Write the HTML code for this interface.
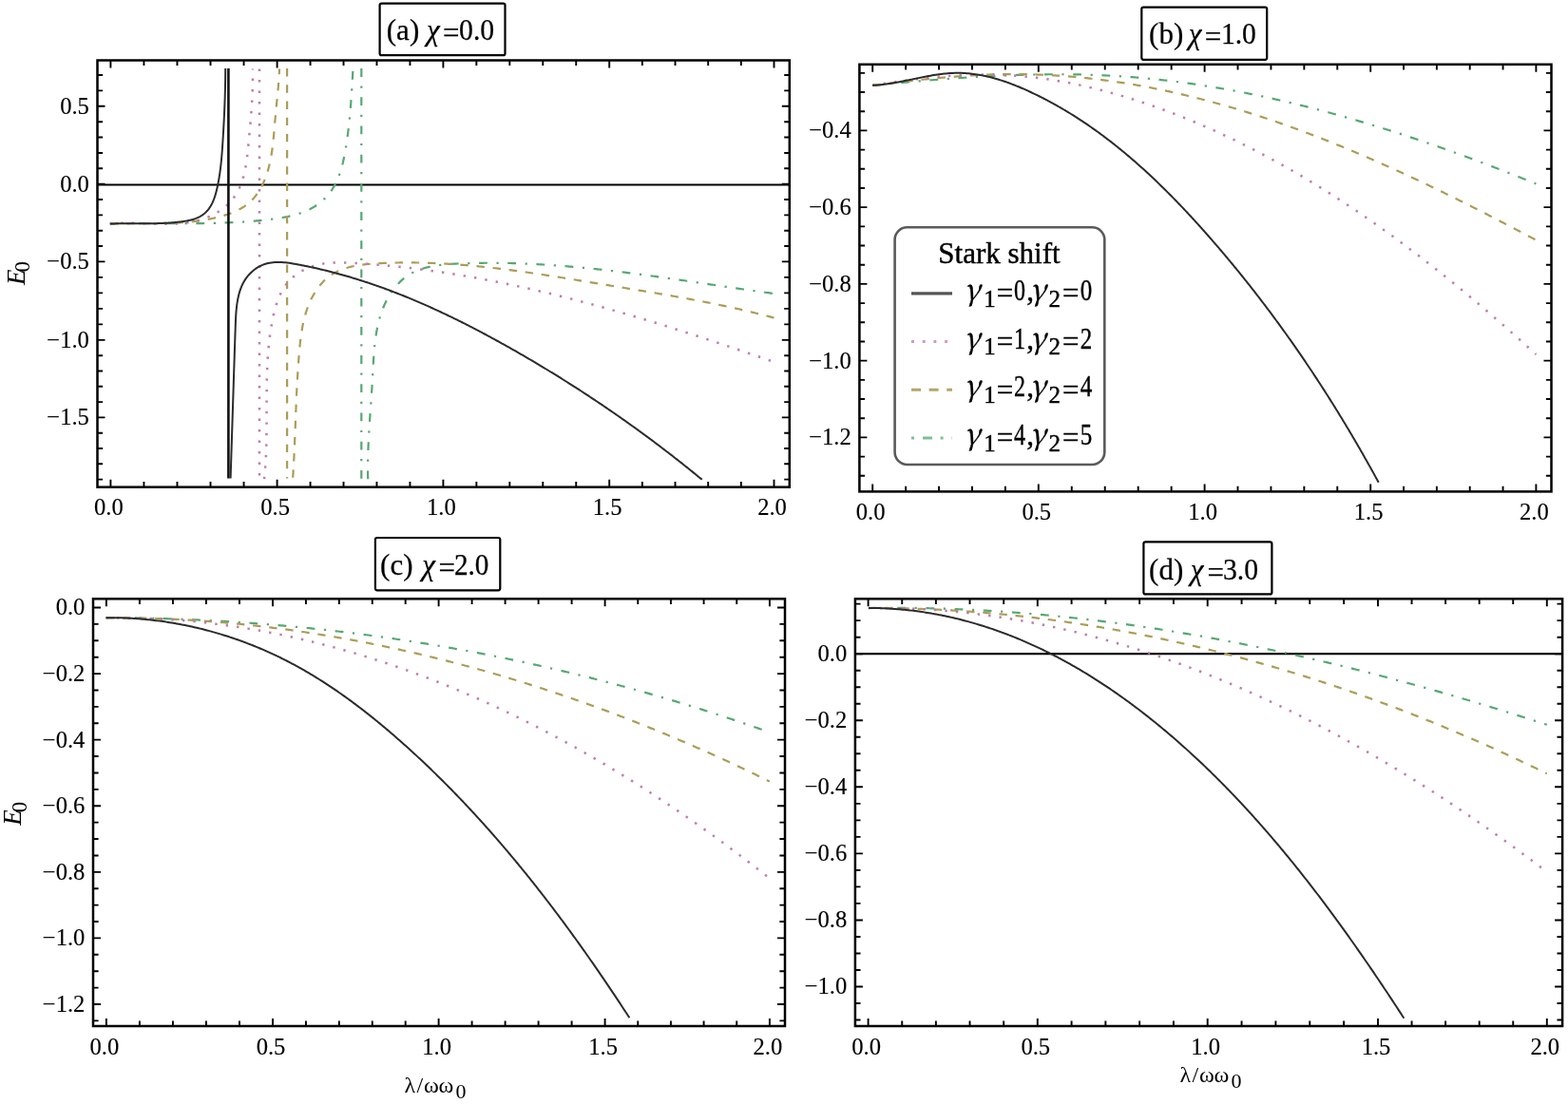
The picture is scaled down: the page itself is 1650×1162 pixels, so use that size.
<!DOCTYPE html>
<html><head><meta charset="utf-8"><title>Stark shift E0 plots</title>
<style>html,body{margin:0;padding:0;background:#fff;}svg{display:block;}</style>
</head><body>
<svg width="1650" height="1162" viewBox="0 0 1650 1162">
<rect width="1650" height="1162" fill="#fff"/>
<path d="M116.40,512.70v-8.0M116.40,63.50v8.0M151.44,512.70v-5.6M151.44,63.50v5.6M186.48,512.70v-5.6M186.48,63.50v5.6M221.52,512.70v-5.6M221.52,63.50v5.6M256.56,512.70v-5.6M256.56,63.50v5.6M291.60,512.70v-8.0M291.60,63.50v8.0M326.56,512.70v-5.6M326.56,63.50v5.6M361.52,512.70v-5.6M361.52,63.50v5.6M396.48,512.70v-5.6M396.48,63.50v5.6M431.44,512.70v-5.6M431.44,63.50v5.6M466.40,512.70v-8.0M466.40,63.50v8.0M501.36,512.70v-5.6M501.36,63.50v5.6M536.32,512.70v-5.6M536.32,63.50v5.6M571.28,512.70v-5.6M571.28,63.50v5.6M606.24,512.70v-5.6M606.24,63.50v5.6M641.20,512.70v-8.0M641.20,63.50v8.0M675.86,512.70v-5.6M675.86,63.50v5.6M710.52,512.70v-5.6M710.52,63.50v5.6M745.18,512.70v-5.6M745.18,63.50v5.6M779.84,512.70v-5.6M779.84,63.50v5.6M814.50,512.70v-8.0M814.50,63.50v8.0M102.50,504.60h5.6M830.80,504.60h-5.6M102.50,488.30h5.6M830.80,488.30h-5.6M102.50,472.00h5.6M830.80,472.00h-5.6M102.50,455.70h5.6M830.80,455.70h-5.6M102.50,439.40h8.0M830.80,439.40h-8.0M102.50,423.10h5.6M830.80,423.10h-5.6M102.50,406.80h5.6M830.80,406.80h-5.6M102.50,390.50h5.6M830.80,390.50h-5.6M102.50,374.20h5.6M830.80,374.20h-5.6M102.50,357.90h8.0M830.80,357.90h-8.0M102.50,341.40h5.6M830.80,341.40h-5.6M102.50,324.90h5.6M830.80,324.90h-5.6M102.50,308.40h5.6M830.80,308.40h-5.6M102.50,291.90h5.6M830.80,291.90h-5.6M102.50,275.40h8.0M830.80,275.40h-8.0M102.50,259.06h5.6M830.80,259.06h-5.6M102.50,242.72h5.6M830.80,242.72h-5.6M102.50,226.38h5.6M830.80,226.38h-5.6M102.50,210.04h5.6M830.80,210.04h-5.6M102.50,193.70h8.0M830.80,193.70h-8.0M102.50,177.32h5.6M830.80,177.32h-5.6M102.50,160.94h5.6M830.80,160.94h-5.6M102.50,144.56h5.6M830.80,144.56h-5.6M102.50,128.18h5.6M830.80,128.18h-5.6M102.50,111.80h8.0M830.80,111.80h-8.0M102.50,95.42h5.6M830.80,95.42h-5.6M102.50,79.04h5.6M830.80,79.04h-5.6" stroke="#000" stroke-width="1.9" fill="none"/>
<g font-family="'Liberation Serif', 'Times New Roman', serif" font-size="24.6" fill="#000" stroke="#000" stroke-width="0.15"><text x="114.4" y="542.3" text-anchor="middle">0.0</text><text x="289.6" y="542.3" text-anchor="middle">0.5</text><text x="464.4" y="542.3" text-anchor="middle">1.0</text><text x="639.2" y="542.3" text-anchor="middle">1.5</text><text x="812.5" y="542.3" text-anchor="middle">2.0</text><text x="93.9" y="447.3" text-anchor="end">−1.5</text><text x="93.9" y="365.8" text-anchor="end">−1.0</text><text x="93.9" y="283.3" text-anchor="end">−0.5</text><text x="93.9" y="201.6" text-anchor="end">0.0</text><text x="93.9" y="119.7" text-anchor="end">0.5</text></g>
<path d="M102.50,194.50H830.80" stroke="#000" stroke-width="2.2"/>
<path d="M918.20,517.40v-8.0M918.20,67.80v8.0M953.12,517.40v-5.6M953.12,67.80v5.6M988.04,517.40v-5.6M988.04,67.80v5.6M1022.96,517.40v-5.6M1022.96,67.80v5.6M1057.88,517.40v-5.6M1057.88,67.80v5.6M1092.80,517.40v-8.0M1092.80,67.80v8.0M1127.76,517.40v-5.6M1127.76,67.80v5.6M1162.72,517.40v-5.6M1162.72,67.80v5.6M1197.68,517.40v-5.6M1197.68,67.80v5.6M1232.64,517.40v-5.6M1232.64,67.80v5.6M1267.60,517.40v-8.0M1267.60,67.80v8.0M1302.52,517.40v-5.6M1302.52,67.80v5.6M1337.44,517.40v-5.6M1337.44,67.80v5.6M1372.36,517.40v-5.6M1372.36,67.80v5.6M1407.28,517.40v-5.6M1407.28,67.80v5.6M1442.20,517.40v-8.0M1442.20,67.80v8.0M1477.04,517.40v-5.6M1477.04,67.80v5.6M1511.88,517.40v-5.6M1511.88,67.80v5.6M1546.72,517.40v-5.6M1546.72,67.80v5.6M1581.56,517.40v-5.6M1581.56,67.80v5.6M1616.40,517.40v-8.0M1616.40,67.80v8.0M904.40,500.78h5.6M1632.50,500.78h-5.6M904.40,480.59h5.6M1632.50,480.59h-5.6M904.40,460.40h8.0M1632.50,460.40h-8.0M904.40,440.21h5.6M1632.50,440.21h-5.6M904.40,420.03h5.6M1632.50,420.03h-5.6M904.40,399.84h5.6M1632.50,399.84h-5.6M904.40,379.65h8.0M1632.50,379.65h-8.0M904.40,359.46h5.6M1632.50,359.46h-5.6M904.40,339.27h5.6M1632.50,339.27h-5.6M904.40,319.09h5.6M1632.50,319.09h-5.6M904.40,298.90h8.0M1632.50,298.90h-8.0M904.40,278.71h5.6M1632.50,278.71h-5.6M904.40,258.52h5.6M1632.50,258.52h-5.6M904.40,238.34h5.6M1632.50,238.34h-5.6M904.40,218.15h8.0M1632.50,218.15h-8.0M904.40,197.96h5.6M1632.50,197.96h-5.6M904.40,177.77h5.6M1632.50,177.77h-5.6M904.40,157.59h5.6M1632.50,157.59h-5.6M904.40,137.40h8.0M1632.50,137.40h-8.0M904.40,117.21h5.6M1632.50,117.21h-5.6M904.40,97.02h5.6M1632.50,97.02h-5.6M904.40,76.84h5.6M1632.50,76.84h-5.6" stroke="#000" stroke-width="1.9" fill="none"/>
<g font-family="'Liberation Serif', 'Times New Roman', serif" font-size="24.6" fill="#000" stroke="#000" stroke-width="0.15"><text x="916.2" y="547.0" text-anchor="middle">0.0</text><text x="1090.8" y="547.0" text-anchor="middle">0.5</text><text x="1265.6" y="547.0" text-anchor="middle">1.0</text><text x="1440.2" y="547.0" text-anchor="middle">1.5</text><text x="1614.4" y="547.0" text-anchor="middle">2.0</text><text x="895.8" y="468.3" text-anchor="end">−1.2</text><text x="895.8" y="387.5" text-anchor="end">−1.0</text><text x="895.8" y="306.8" text-anchor="end">−0.8</text><text x="895.8" y="226.0" text-anchor="end">−0.6</text><text x="895.8" y="145.3" text-anchor="end">−0.4</text></g>
<path d="M111.90,1080.00v-8.0M111.90,630.30v8.0M146.92,1080.00v-5.6M146.92,630.30v5.6M181.94,1080.00v-5.6M181.94,630.30v5.6M216.96,1080.00v-5.6M216.96,630.30v5.6M251.98,1080.00v-5.6M251.98,630.30v5.6M287.00,1080.00v-8.0M287.00,630.30v8.0M321.92,1080.00v-5.6M321.92,630.30v5.6M356.84,1080.00v-5.6M356.84,630.30v5.6M391.76,1080.00v-5.6M391.76,630.30v5.6M426.68,1080.00v-5.6M426.68,630.30v5.6M461.60,1080.00v-8.0M461.60,630.30v8.0M496.60,1080.00v-5.6M496.60,630.30v5.6M531.60,1080.00v-5.6M531.60,630.30v5.6M566.60,1080.00v-5.6M566.60,630.30v5.6M601.60,1080.00v-5.6M601.60,630.30v5.6M636.60,1080.00v-8.0M636.60,630.30v8.0M671.26,1080.00v-5.6M671.26,630.30v5.6M705.92,1080.00v-5.6M705.92,630.30v5.6M740.58,1080.00v-5.6M740.58,630.30v5.6M775.24,1080.00v-5.6M775.24,630.30v5.6M809.90,1080.00v-8.0M809.90,630.30v8.0M98.00,1074.40h5.6M826.00,1074.40h-5.6M98.00,1057.00h8.0M826.00,1057.00h-8.0M98.00,1039.60h5.6M826.00,1039.60h-5.6M98.00,1022.21h5.6M826.00,1022.21h-5.6M98.00,1004.81h5.6M826.00,1004.81h-5.6M98.00,987.42h8.0M826.00,987.42h-8.0M98.00,970.02h5.6M826.00,970.02h-5.6M98.00,952.62h5.6M826.00,952.62h-5.6M98.00,935.23h5.6M826.00,935.23h-5.6M98.00,917.83h8.0M826.00,917.83h-8.0M98.00,900.44h5.6M826.00,900.44h-5.6M98.00,883.04h5.6M826.00,883.04h-5.6M98.00,865.65h5.6M826.00,865.65h-5.6M98.00,848.25h8.0M826.00,848.25h-8.0M98.00,830.85h5.6M826.00,830.85h-5.6M98.00,813.46h5.6M826.00,813.46h-5.6M98.00,796.06h5.6M826.00,796.06h-5.6M98.00,778.67h8.0M826.00,778.67h-8.0M98.00,761.27h5.6M826.00,761.27h-5.6M98.00,743.88h5.6M826.00,743.88h-5.6M98.00,726.48h5.6M826.00,726.48h-5.6M98.00,709.08h8.0M826.00,709.08h-8.0M98.00,691.69h5.6M826.00,691.69h-5.6M98.00,674.29h5.6M826.00,674.29h-5.6M98.00,656.90h5.6M826.00,656.90h-5.6M98.00,639.50h8.0M826.00,639.50h-8.0" stroke="#000" stroke-width="1.9" fill="none"/>
<g font-family="'Liberation Serif', 'Times New Roman', serif" font-size="24.6" fill="#000" stroke="#000" stroke-width="0.15"><text x="109.9" y="1109.6" text-anchor="middle">0.0</text><text x="285.0" y="1109.6" text-anchor="middle">0.5</text><text x="459.6" y="1109.6" text-anchor="middle">1.0</text><text x="634.6" y="1109.6" text-anchor="middle">1.5</text><text x="807.9" y="1109.6" text-anchor="middle">2.0</text><text x="89.4" y="1064.9" text-anchor="end">−1.2</text><text x="89.4" y="995.3" text-anchor="end">−1.0</text><text x="89.4" y="925.7" text-anchor="end">−0.8</text><text x="89.4" y="856.1" text-anchor="end">−0.6</text><text x="89.4" y="786.6" text-anchor="end">−0.4</text><text x="89.4" y="717.0" text-anchor="end">−0.2</text><text x="89.4" y="647.4" text-anchor="end">0.0</text></g>
<path d="M913.60,1080.00v-8.0M913.60,630.30v8.0M949.24,1080.00v-5.6M949.24,630.30v5.6M984.88,1080.00v-5.6M984.88,630.30v5.6M1020.52,1080.00v-5.6M1020.52,630.30v5.6M1056.16,1080.00v-5.6M1056.16,630.30v5.6M1091.80,1080.00v-8.0M1091.80,630.30v8.0M1127.58,1080.00v-5.6M1127.58,630.30v5.6M1163.36,1080.00v-5.6M1163.36,630.30v5.6M1199.14,1080.00v-5.6M1199.14,630.30v5.6M1234.92,1080.00v-5.6M1234.92,630.30v5.6M1270.70,1080.00v-8.0M1270.70,630.30v8.0M1306.56,1080.00v-5.6M1306.56,630.30v5.6M1342.42,1080.00v-5.6M1342.42,630.30v5.6M1378.28,1080.00v-5.6M1378.28,630.30v5.6M1414.14,1080.00v-5.6M1414.14,630.30v5.6M1450.00,1080.00v-8.0M1450.00,630.30v8.0M1485.56,1080.00v-5.6M1485.56,630.30v5.6M1521.12,1080.00v-5.6M1521.12,630.30v5.6M1556.68,1080.00v-5.6M1556.68,630.30v5.6M1592.24,1080.00v-5.6M1592.24,630.30v5.6M1627.80,1080.00v-8.0M1627.80,630.30v8.0M899.90,1073.53h5.6M1644.10,1073.53h-5.6M899.90,1056.02h5.6M1644.10,1056.02h-5.6M899.90,1038.50h8.0M1644.10,1038.50h-8.0M899.90,1020.99h5.6M1644.10,1020.99h-5.6M899.90,1003.47h5.6M1644.10,1003.47h-5.6M899.90,985.96h5.6M1644.10,985.96h-5.6M899.90,968.44h8.0M1644.10,968.44h-8.0M899.90,950.92h5.6M1644.10,950.92h-5.6M899.90,933.41h5.6M1644.10,933.41h-5.6M899.90,915.89h5.6M1644.10,915.89h-5.6M899.90,898.38h8.0M1644.10,898.38h-8.0M899.90,880.87h5.6M1644.10,880.87h-5.6M899.90,863.35h5.6M1644.10,863.35h-5.6M899.90,845.84h5.6M1644.10,845.84h-5.6M899.90,828.32h8.0M1644.10,828.32h-8.0M899.90,810.81h5.6M1644.10,810.81h-5.6M899.90,793.29h5.6M1644.10,793.29h-5.6M899.90,775.78h5.6M1644.10,775.78h-5.6M899.90,758.26h8.0M1644.10,758.26h-8.0M899.90,740.75h5.6M1644.10,740.75h-5.6M899.90,723.23h5.6M1644.10,723.23h-5.6M899.90,705.72h5.6M1644.10,705.72h-5.6M899.90,688.20h8.0M1644.10,688.20h-8.0M899.90,670.69h5.6M1644.10,670.69h-5.6M899.90,653.17h5.6M1644.10,653.17h-5.6M899.90,635.66h5.6M1644.10,635.66h-5.6" stroke="#000" stroke-width="1.9" fill="none"/>
<g font-family="'Liberation Serif', 'Times New Roman', serif" font-size="24.6" fill="#000" stroke="#000" stroke-width="0.15"><text x="911.6" y="1109.6" text-anchor="middle">0.0</text><text x="1089.8" y="1109.6" text-anchor="middle">0.5</text><text x="1268.7" y="1109.6" text-anchor="middle">1.0</text><text x="1448.0" y="1109.6" text-anchor="middle">1.5</text><text x="1625.8" y="1109.6" text-anchor="middle">2.0</text><text x="891.3" y="1046.4" text-anchor="end">−1.0</text><text x="891.3" y="976.3" text-anchor="end">−0.8</text><text x="891.3" y="906.3" text-anchor="end">−0.6</text><text x="891.3" y="836.2" text-anchor="end">−0.4</text><text x="891.3" y="766.2" text-anchor="end">−0.2</text><text x="891.3" y="696.1" text-anchor="end">0.0</text></g>
<path d="M899.90,688.20H1644.10" stroke="#000" stroke-width="2.2"/>
<path d="M115.80,235.50 116.75,235.48 117.70,235.45 118.66,235.43 119.61,235.40 120.56,235.38 121.51,235.36 122.46,235.34 123.41,235.32 124.36,235.30 125.31,235.28 126.26,235.27 127.21,235.25 128.16,235.23 129.11,235.22 130.05,235.21 131.00,235.19 131.94,235.18 132.89,235.17 133.84,235.16 134.78,235.15 135.72,235.14 136.67,235.13 137.61,235.12 138.55,235.11 139.50,235.10 140.44,235.10 141.38,235.09 142.32,235.09 143.26,235.08 144.20,235.08 145.15,235.07 146.09,235.07 147.02,235.07 147.96,235.07 148.90,235.06 149.84,235.06 150.78,235.06 151.72,235.06 152.66,235.06 153.59,235.06 154.53,235.06 155.47,235.06 156.40,235.06 157.34,235.06 158.27,235.06 159.21,235.07 160.15,235.07 161.08,235.07 162.01,235.07 162.95,235.08 163.88,235.08 164.82,235.08 165.75,235.08 166.68,235.09 167.62,235.09 168.55,235.09 169.48,235.10 170.42,235.10 171.35,235.11 172.28,235.11 173.21,235.11 174.15,235.12 175.08,235.12 176.01,235.12 176.94,235.13 177.87,235.13 178.80,235.13 179.73,235.14 180.66,235.14 181.59,235.14 182.53,235.15 183.46,235.15 184.39,235.15 185.32,235.15 186.25,235.16 187.18,235.16 188.11,235.16 189.04,235.16 189.97,235.16 190.90,235.16 191.82,235.16 192.75,235.16 193.68,235.16 194.61,235.16 195.54,235.16 196.47,235.16 197.40,235.16 198.33,235.16 199.26,235.15 200.19,235.15 201.12,235.15 202.05,235.14 202.98,235.14 203.91,235.13 204.84,235.13 205.76,235.12 206.69,235.11 207.62,235.11 208.55,235.10 209.48,235.09 210.41,235.08 211.34,235.07 212.27,235.06 213.20,235.05 214.13,235.04 215.06,235.02 215.99,235.01 216.92,235.00 217.85,234.98 218.78,234.96 219.71,234.95 220.64,234.93 221.57,234.91 222.50,234.89 223.43,234.87 224.36,234.85 225.30,234.83 226.23,234.81 227.16,234.78 228.09,234.76 229.02,234.73 229.95,234.71 230.89,234.68 231.82,234.65 232.75,234.62 233.68,234.59 234.62,234.56 235.55,234.52 236.48,234.49 237.42,234.45 238.35,234.42 239.29,234.38 240.22,234.34 241.15,234.30 242.09,234.26 243.02,234.22 243.96,234.17 244.90,234.13 245.83,234.08 246.77,234.03 247.70,233.99 248.64,233.94 249.58,233.88 250.52,233.83 251.45,233.78 252.39,233.72 253.33,233.66 254.27,233.61 255.21,233.55 256.15,233.48 257.09,233.42 258.03,233.36 258.97,233.29 259.91,233.22 260.85,233.16 261.79,233.08 262.73,233.01 263.68,232.94 264.62,232.86 265.56,232.79 266.51,232.71 267.45,232.63 268.40,232.55 269.34,232.46 270.29,232.38 271.23,232.29 272.18,232.20 273.13,232.11 274.07,232.02 275.02,231.93 275.97,231.83 276.92,231.73 277.87,231.63 278.82,231.53 279.77,231.43 280.72,231.32 281.67,231.22 282.62,231.11 283.57,231.00 284.52,230.88 285.47,230.77 286.43,230.65 287.38,230.52 288.33,230.40 289.28,230.27 290.23,230.14 291.18,230.00 292.12,229.86 293.07,229.72 294.01,229.57 294.96,229.42 295.90,229.26 296.84,229.10 297.78,228.93 298.72,228.76 299.65,228.59 300.59,228.41 301.52,228.22 302.45,228.03 303.37,227.83 304.29,227.62 305.21,227.41 306.13,227.20 307.05,226.97 307.96,226.75 308.87,226.51 309.77,226.27 310.67,226.02 311.57,225.76 312.47,225.49 313.36,225.22 314.24,224.94 315.12,224.65 316.00,224.36 316.87,224.05 317.74,223.74 318.61,223.42 319.47,223.09 320.32,222.75 321.17,222.40 322.01,222.04 322.85,221.68 323.69,221.30 324.51,220.91 325.34,220.52 326.15,220.11 326.96,219.70 327.77,219.27 328.56,218.83 329.36,218.38 330.14,217.92 330.92,217.45 331.69,216.97 332.46,216.48 333.22,215.98 333.97,215.46 334.71,214.93 335.45,214.39 336.18,213.84 336.90,213.28 337.61,212.70 338.32,212.11 339.01,211.51 339.70,210.90 340.39,210.27 341.06,209.63 341.72,208.98 342.38,208.32 343.02,207.64 343.65,206.96 344.28,206.26 344.89,205.55 345.50,204.84 346.09,204.11 346.68,203.37 347.25,202.62 347.81,201.87 348.36,201.10 348.89,200.32 349.42,199.54 349.93,198.75 350.43,197.95 350.92,197.14 351.40,196.32 351.87,195.50 352.32,194.67 352.77,193.84 353.20,192.99 353.62,192.15 354.03,191.29 354.43,190.44 354.82,189.57 355.20,188.71 355.57,187.84 355.93,186.96 356.28,186.08 356.62,185.20 356.95,184.32 357.27,183.43 357.58,182.54 357.89,181.64 358.18,180.74 358.46,179.85 358.74,178.94 359.01,178.04 359.27,177.13 359.53,176.22 359.78,175.31 360.02,174.40 360.25,173.48 360.48,172.56 360.71,171.65 360.92,170.73 361.13,169.80 361.34,168.88 361.54,167.96 361.74,167.03 361.93,166.11 362.12,165.18 362.30,164.25 362.48,163.33 362.65,162.40 362.83,161.47 363.00,160.54 363.16,159.61 363.33,158.69 363.49,157.76 363.65,156.83 363.81,155.90 363.96,154.97 364.11,154.05 364.26,153.12 364.41,152.19 364.56,151.26 364.70,150.34 364.84,149.41 364.98,148.48 365.12,147.55 365.25,146.63 365.38,145.70 365.51,144.77 365.64,143.84 365.77,142.92 365.89,141.99 366.01,141.06 366.13,140.14 366.25,139.21 366.37,138.28 366.48,137.35 366.59,136.43 366.70,135.50 366.81,134.57 366.92,133.64 367.02,132.71 367.13,131.79 367.23,130.86 367.33,129.93 367.43,129.00 367.52,128.07 367.62,127.15 367.71,126.22 367.81,125.29 367.90,124.36 367.99,123.43 368.07,122.50 368.16,121.57 368.25,120.65 368.33,119.72 368.41,118.79 368.49,117.86 368.57,116.93 368.65,116.00 368.73,115.07 368.81,114.14 368.88,113.21 368.96,112.28 369.03,111.35 369.10,110.41 369.17,109.48 369.24,108.55 369.31,107.62 369.38,106.69 369.45,105.76 369.51,104.82 369.58,103.89 369.64,102.96 369.71,102.03 369.77,101.09 369.83,100.16 369.89,99.22 369.95,98.29 370.01,97.36 370.07,96.42 370.13,95.49 370.19,94.55 370.25,93.62 370.31,92.68 370.36,91.74 370.42,90.81 370.48,89.87 370.53,88.93 370.59,87.99 370.64,87.06 370.70,86.12 370.75,85.18 370.81,84.24 370.86,83.30 370.91,82.36 370.97,81.42 371.02,80.48 371.07,79.54 371.13,78.60 371.18,77.66 371.23,76.72 371.29,75.77 371.34,74.83 371.39,73.89 371.45,72.94 371.50,72.00" stroke="#55a872" stroke-width="2.2" fill="none" stroke-dasharray="8.8 9.6 2.2 9.6"/>
<path d="M380.30,72.10V504.20" stroke="#55a872" stroke-width="2.2" fill="none" stroke-dasharray="8.8 9.6 2.2 9.6"/>
<path d="M387.20,504.20 387.16,502.58 387.13,500.96 387.11,499.34 387.09,497.74 387.08,496.14 387.07,494.54 387.07,492.95 387.07,491.37 387.08,489.79 387.09,488.22 387.11,486.65 387.13,485.09 387.16,483.53 387.19,481.98 387.22,480.43 387.26,478.88 387.30,477.34 387.35,475.81 387.40,474.27 387.45,472.74 387.51,471.22 387.57,469.69 387.63,468.17 387.69,466.66 387.76,465.14 387.84,463.63 387.91,462.12 387.99,460.61 388.07,459.11 388.15,457.60 388.23,456.10 388.32,454.60 388.41,453.10 388.50,451.61 388.59,450.11 388.68,448.61 388.78,447.12 388.88,445.63 388.97,444.13 389.07,442.64 389.17,441.15 389.27,439.65 389.38,438.16 389.48,436.67 389.58,435.17 389.69,433.68 389.79,432.18 389.90,430.69 390.00,429.19 390.11,427.69 390.21,426.19 390.32,424.68 390.42,423.18 390.53,421.67 390.63,420.17 390.73,418.65 390.83,417.14 390.94,415.63 391.04,414.11 391.13,412.59 391.23,411.06 391.33,409.53 391.42,408.00 391.52,406.46 391.61,404.93 391.70,403.38 391.79,401.84 391.87,400.28 391.96,398.73 392.04,397.17 392.12,395.60 392.20,394.03 392.28,392.46 392.36,390.89 392.44,389.31 392.52,387.73 392.60,386.15 392.69,384.56 392.78,382.98 392.87,381.39 392.96,379.80 393.06,378.21 393.17,376.62 393.28,375.02 393.39,373.43 393.51,371.84 393.64,370.25 393.77,368.66 393.92,367.07 394.07,365.48 394.23,363.90 394.40,362.31 394.58,360.73 394.77,359.15 394.97,357.58 395.18,356.00 395.40,354.43 395.64,352.87 395.89,351.30 396.15,349.75 396.42,348.19 396.71,346.64 397.02,345.10 397.34,343.56 397.68,342.03 398.03,340.50 398.40,338.98 398.79,337.46 399.20,335.96 399.62,334.45 400.06,332.96 400.53,331.48 401.01,330.00 401.51,328.53 402.04,327.07 402.58,325.61 403.15,324.17 403.74,322.74 404.36,321.31 404.99,319.90 405.65,318.50 406.33,317.11 407.03,315.74 407.76,314.38 408.50,313.04 409.27,311.71 410.06,310.40 410.87,309.11 411.71,307.84 412.56,306.58 413.44,305.35 414.34,304.14 415.26,302.96 416.20,301.79 417.16,300.66 418.15,299.54 419.15,298.46 420.18,297.40 421.22,296.37 422.29,295.36 423.38,294.39 424.49,293.45 425.62,292.54 426.77,291.66 427.94,290.82 429.13,290.01 430.35,289.23 431.58,288.49 432.83,287.78 434.10,287.10 435.38,286.45 436.69,285.84 438.01,285.25 439.35,284.69 440.70,284.16 442.07,283.66 443.45,283.18 444.85,282.73 446.26,282.31 447.68,281.90 449.12,281.52 450.57,281.17 452.03,280.83 453.50,280.52 454.98,280.22 456.47,279.95 457.98,279.69 459.49,279.45 461.00,279.23 462.53,279.02 464.06,278.83 465.60,278.66 467.15,278.49 468.70,278.34 470.26,278.20 471.82,278.08 473.39,277.96 474.95,277.85 476.53,277.75 478.10,277.66 479.68,277.58 481.25,277.51 482.83,277.44 484.41,277.37 485.99,277.31 487.57,277.25 489.14,277.19 490.72,277.14 492.29,277.09 493.87,277.05 495.44,277.01 497.01,276.97 498.59,276.93 500.16,276.90 501.73,276.87 503.30,276.85 504.87,276.82 506.44,276.80 508.00,276.79 509.57,276.77 511.14,276.76 512.70,276.75 514.27,276.75 515.83,276.75 517.39,276.75 518.96,276.75 520.52,276.76 522.08,276.77 523.64,276.78 525.20,276.80 526.76,276.82 528.32,276.84 529.87,276.86 531.43,276.89 532.99,276.92 534.54,276.95 536.10,276.99 537.65,277.02 539.21,277.07 540.76,277.11 542.31,277.15 543.87,277.20 545.42,277.25 546.97,277.31 548.52,277.36 550.07,277.42 551.62,277.48 553.17,277.55 554.72,277.61 556.26,277.68 557.81,277.75 559.36,277.83 560.90,277.90 562.45,277.98 563.99,278.06 565.54,278.14 567.08,278.23 568.63,278.32 570.17,278.41 571.71,278.50 573.25,278.59 574.79,278.69 576.33,278.79 577.87,278.89 579.41,279.00 580.95,279.10 582.49,279.21 584.03,279.32 585.57,279.43 587.11,279.54 588.65,279.66 590.18,279.78 591.72,279.90 593.25,280.02 594.79,280.15 596.33,280.27 597.86,280.40 599.39,280.53 600.93,280.66 602.46,280.80 604.00,280.93 605.53,281.07 607.06,281.21 608.59,281.35 610.12,281.49 611.66,281.64 613.19,281.78 614.72,281.93 616.25,282.08 617.78,282.23 619.31,282.39 620.84,282.54 622.37,282.70 623.89,282.86 625.42,283.02 626.95,283.18 628.48,283.34 630.01,283.51 631.53,283.67 633.06,283.84 634.59,284.01 636.12,284.18 637.64,284.35 639.17,284.53 640.69,284.70 642.22,284.88 643.74,285.06 645.27,285.23 646.79,285.42 648.32,285.60 649.84,285.78 651.37,285.96 652.89,286.15 654.42,286.34 655.94,286.52 657.46,286.71 658.99,286.90 660.51,287.10 662.03,287.29 663.56,287.48 665.08,287.68 666.60,287.87 668.12,288.07 669.65,288.27 671.17,288.47 672.69,288.67 674.21,288.87 675.73,289.07 677.26,289.28 678.78,289.48 680.30,289.68 681.82,289.89 683.34,290.10 684.86,290.30 686.39,290.51 687.91,290.72 689.43,290.93 690.95,291.14 692.47,291.36 693.99,291.57 695.51,291.78 697.03,291.99 698.55,292.21 700.08,292.42 701.60,292.64 703.12,292.86 704.64,293.07 706.16,293.29 707.68,293.51 709.20,293.73 710.72,293.95 712.24,294.17 713.76,294.39 715.28,294.61 716.81,294.83 718.33,295.05 719.85,295.27 721.37,295.50 722.89,295.72 724.41,295.94 725.93,296.17 727.46,296.39 728.98,296.61 730.50,296.84 732.02,297.06 733.54,297.29 735.06,297.51 736.59,297.74 738.11,297.96 739.63,298.19 741.15,298.42 742.68,298.64 744.20,298.87 745.72,299.09 747.25,299.32 748.77,299.55 750.29,299.77 751.82,300.00 753.34,300.23 754.87,300.45 756.39,300.68 757.91,300.90 759.44,301.13 760.96,301.36 762.49,301.58 764.01,301.81 765.54,302.03 767.07,302.26 768.59,302.48 770.12,302.71 771.65,302.93 773.17,303.16 774.70,303.38 776.23,303.61 777.75,303.83 779.28,304.05 780.81,304.28 782.34,304.50 783.87,304.72 785.40,304.94 786.93,305.17 788.46,305.39 789.99,305.61 791.52,305.83 793.05,306.05 794.58,306.27 796.11,306.48 797.64,306.70 799.17,306.92 800.71,307.14 802.24,307.35 803.77,307.57 805.31,307.78 806.84,308.00 808.37,308.21 809.91,308.42 811.44,308.63 812.98,308.85 814.52,309.06" stroke="#55a872" stroke-width="2.2" fill="none" stroke-dasharray="8.8 9.6 2.2 9.6"/>
<path d="M115.80,235.50 116.54,235.47 117.28,235.44 118.02,235.41 118.76,235.38 119.50,235.36 120.24,235.33 120.98,235.31 121.72,235.29 122.47,235.27 123.21,235.25 123.95,235.23 124.69,235.21 125.43,235.19 126.18,235.18 126.92,235.17 127.66,235.15 128.41,235.14 129.15,235.13 129.90,235.12 130.64,235.11 131.38,235.10 132.13,235.09 132.87,235.09 133.62,235.08 134.36,235.07 135.11,235.07 135.86,235.06 136.60,235.06 137.35,235.06 138.09,235.05 138.84,235.05 139.59,235.05 140.33,235.05 141.08,235.05 141.83,235.05 142.58,235.05 143.32,235.05 144.07,235.05 144.82,235.05 145.57,235.05 146.31,235.05 147.06,235.05 147.81,235.06 148.56,235.06 149.31,235.06 150.05,235.06 150.80,235.06 151.55,235.06 152.30,235.07 153.05,235.07 153.80,235.07 154.55,235.07 155.30,235.07 156.05,235.07 156.79,235.07 157.54,235.07 158.29,235.07 159.04,235.07 159.79,235.07 160.54,235.07 161.29,235.07 162.04,235.06 162.79,235.06 163.54,235.06 164.29,235.05 165.04,235.05 165.79,235.04 166.54,235.04 167.29,235.03 168.04,235.02 168.79,235.01 169.54,235.00 170.28,234.99 171.03,234.98 171.78,234.97 172.53,234.96 173.28,234.94 174.03,234.93 174.78,234.91 175.53,234.90 176.28,234.88 177.03,234.86 177.78,234.84 178.53,234.82 179.27,234.79 180.02,234.77 180.77,234.74 181.52,234.71 182.27,234.69 183.02,234.66 183.77,234.62 184.51,234.59 185.26,234.56 186.01,234.52 186.76,234.48 187.50,234.44 188.25,234.40 189.00,234.36 189.75,234.32 190.49,234.27 191.24,234.22 191.99,234.17 192.73,234.12 193.48,234.07 194.23,234.01 194.97,233.96 195.72,233.90 196.46,233.84 197.21,233.77 197.95,233.71 198.70,233.64 199.44,233.57 200.19,233.50 200.93,233.42 201.68,233.35 202.42,233.27 203.16,233.19 203.91,233.10 204.65,233.02 205.39,232.93 206.14,232.84 206.88,232.75 207.62,232.65 208.36,232.55 209.10,232.45 209.84,232.35 210.59,232.24 211.33,232.14 212.07,232.02 212.81,231.91 213.55,231.79 214.29,231.67 215.03,231.55 215.77,231.43 216.50,231.30 217.24,231.17 217.98,231.03 218.72,230.90 219.46,230.76 220.19,230.61 220.93,230.47 221.67,230.32 222.40,230.16 223.14,230.01 223.87,229.85 224.61,229.69 225.34,229.52 226.08,229.35 226.81,229.18 227.54,229.00 228.28,228.83 229.01,228.64 229.74,228.46 230.47,228.27 231.20,228.07 231.93,227.88 232.66,227.68 233.39,227.47 234.12,227.26 234.85,227.05 235.58,226.84 236.31,226.62 237.03,226.39 237.75,226.16 238.48,225.93 239.20,225.69 239.91,225.45 240.63,225.20 241.34,224.95 242.05,224.69 242.76,224.43 243.47,224.16 244.17,223.89 244.87,223.61 245.57,223.32 246.26,223.03 246.95,222.74 247.64,222.44 248.32,222.13 249.00,221.81 249.67,221.49 250.34,221.16 251.00,220.83 251.66,220.49 252.32,220.14 252.97,219.79 253.62,219.43 254.26,219.06 254.89,218.68 255.52,218.30 256.14,217.91 256.76,217.51 257.37,217.11 257.98,216.69 258.58,216.27 259.17,215.84 259.75,215.41 260.33,214.96 260.90,214.51 261.47,214.05 262.03,213.58 262.57,213.10 263.12,212.61 263.65,212.11 264.18,211.60 264.70,211.09 265.21,210.57 265.71,210.04 266.21,209.50 266.70,208.96 267.18,208.40 267.65,207.85 268.12,207.28 268.58,206.71 269.03,206.13 269.48,205.54 269.92,204.95 270.35,204.35 270.77,203.75 271.19,203.14 271.60,202.53 272.01,201.91 272.40,201.28 272.79,200.66 273.18,200.02 273.55,199.39 273.92,198.75 274.29,198.10 274.65,197.45 275.00,196.80 275.34,196.15 275.68,195.49 276.01,194.83 276.34,194.17 276.66,193.50 276.97,192.83 277.28,192.16 277.58,191.48 277.87,190.81 278.16,190.13 278.45,189.44 278.73,188.76 279.00,188.07 279.27,187.38 279.53,186.69 279.79,186.00 280.04,185.30 280.29,184.60 280.53,183.90 280.76,183.19 281.00,182.49 281.22,181.78 281.44,181.07 281.66,180.36 281.87,179.64 282.08,178.93 282.28,178.21 282.48,177.49 282.68,176.77 282.87,176.04 283.05,175.32 283.23,174.59 283.41,173.86 283.58,173.13 283.75,172.40 283.92,171.67 284.08,170.93 284.24,170.20 284.39,169.46 284.54,168.72 284.69,167.98 284.83,167.24 284.97,166.50 285.11,165.75 285.24,165.01 285.37,164.26 285.50,163.52 285.63,162.77 285.75,162.02 285.87,161.27 285.98,160.52 286.10,159.77 286.21,159.01 286.31,158.26 286.42,157.51 286.52,156.75 286.62,156.00 286.72,155.24 286.82,154.48 286.91,153.73 287.00,152.97 287.09,152.21 287.18,151.45 287.27,150.70 287.35,149.94 287.43,149.18 287.51,148.42 287.59,147.66 287.67,146.90 287.75,146.14 287.82,145.38 287.90,144.62 287.97,143.86 288.04,143.10 288.11,142.35 288.18,141.59 288.25,140.83 288.31,140.07 288.38,139.31 288.45,138.55 288.51,137.80 288.58,137.04 288.64,136.28 288.71,135.53 288.77,134.77 288.83,134.02 288.90,133.26 288.96,132.51 289.02,131.76 289.09,131.01 289.15,130.26 289.21,129.51 289.28,128.76 289.34,128.01 289.40,127.26 289.47,126.52 289.53,125.77 289.60,125.03 289.66,124.28 289.73,123.54 289.80,122.80 289.87,122.06 289.94,121.32 290.01,120.59 290.08,119.85 290.15,119.12 290.22,118.38 290.29,117.65 290.36,116.91 290.43,116.18 290.50,115.45 290.57,114.72 290.65,113.99 290.72,113.25 290.79,112.52 290.86,111.80 290.94,111.07 291.01,110.34 291.08,109.61 291.15,108.88 291.23,108.15 291.30,107.42 291.37,106.69 291.44,105.97 291.52,105.24 291.59,104.51 291.66,103.78 291.73,103.05 291.80,102.32 291.87,101.60 291.94,100.87 292.01,100.14 292.08,99.41 292.15,98.68 292.22,97.95 292.29,97.22 292.36,96.48 292.42,95.75 292.49,95.02 292.55,94.28 292.62,93.55 292.68,92.81 292.75,92.08 292.81,91.34 292.87,90.60 292.93,89.86 292.99,89.12 293.05,88.38 293.11,87.64 293.16,86.90 293.22,86.15 293.27,85.41 293.33,84.66 293.38,83.91 293.43,83.16 293.48,82.41 293.53,81.66 293.57,80.91 293.62,80.15 293.67,79.39 293.71,78.63 293.75,77.87 293.79,77.11 293.83,76.35 293.87,75.58 293.90,74.81 293.94,74.04 293.97,73.27 294.00,72.50" stroke="#ab9d58" stroke-width="2.2" fill="none" stroke-dasharray="8.4 8.8"/>
<path d="M302.10,72.10V503.50" stroke="#ab9d58" stroke-width="2.2" fill="none" stroke-dasharray="8.4 8.8"/>
<path d="M308.19,502.70 308.31,500.91 308.42,499.11 308.54,497.32 308.64,495.54 308.75,493.76 308.85,491.98 308.95,490.21 309.05,488.43 309.14,486.67 309.23,484.90 309.32,483.14 309.41,481.38 309.50,479.63 309.58,477.88 309.66,476.13 309.74,474.38 309.82,472.64 309.89,470.90 309.97,469.16 310.04,467.42 310.11,465.68 310.18,463.95 310.25,462.22 310.32,460.49 310.39,458.76 310.46,457.04 310.52,455.31 310.59,453.59 310.65,451.87 310.72,450.15 310.78,448.43 310.85,446.71 310.91,444.99 310.97,443.27 311.04,441.56 311.10,439.84 311.17,438.12 311.23,436.41 311.30,434.69 311.36,432.98 311.43,431.26 311.50,429.55 311.57,427.83 311.63,426.12 311.70,424.40 311.78,422.69 311.85,420.97 311.92,419.25 312.00,417.53 312.08,415.81 312.15,414.09 312.23,412.37 312.32,410.64 312.40,408.92 312.49,407.19 312.58,405.47 312.67,403.74 312.76,402.00 312.86,400.27 312.95,398.54 313.05,396.80 313.16,395.06 313.26,393.32 313.37,391.57 313.49,389.83 313.60,388.08 313.72,386.32 313.84,384.57 313.97,382.81 314.10,381.05 314.23,379.28 314.37,377.52 314.51,375.74 314.65,373.97 314.80,372.19 314.95,370.41 315.11,368.62 315.27,366.84 315.44,365.05 315.62,363.25 315.81,361.46 316.00,359.67 316.21,357.87 316.43,356.08 316.66,354.29 316.90,352.50 317.16,350.71 317.43,348.92 317.72,347.14 318.03,345.36 318.35,343.59 318.70,341.82 319.06,340.06 319.45,338.31 319.86,336.56 320.29,334.82 320.74,333.09 321.23,331.37 321.73,329.65 322.27,327.95 322.83,326.26 323.42,324.58 324.03,322.91 324.67,321.26 325.34,319.63 326.04,318.01 326.76,316.41 327.52,314.84 328.29,313.28 329.10,311.75 329.94,310.24 330.80,308.75 331.69,307.29 332.61,305.86 333.56,304.46 334.54,303.08 335.54,301.74 336.58,300.43 337.64,299.15 338.73,297.91 339.85,296.70 341.00,295.53 342.18,294.40 343.39,293.31 344.63,292.26 345.90,291.25 347.19,290.29 348.52,289.37 349.88,288.49 351.26,287.66 352.67,286.87 354.11,286.12 355.58,285.42 357.07,284.75 358.58,284.12 360.12,283.52 361.67,282.96 363.25,282.44 364.85,281.95 366.47,281.49 368.10,281.06 369.76,280.66 371.43,280.28 373.11,279.94 374.81,279.62 376.52,279.32 378.24,279.05 379.98,278.80 381.72,278.57 383.48,278.36 385.24,278.16 387.01,277.99 388.79,277.83 390.57,277.68 392.36,277.55 394.15,277.43 395.94,277.32 397.73,277.21 399.53,277.12 401.32,277.04 403.12,276.96 404.91,276.88 406.70,276.81 408.49,276.75 410.28,276.69 412.07,276.64 413.85,276.59 415.64,276.55 417.42,276.52 419.20,276.48 420.98,276.46 422.76,276.44 424.54,276.42 426.32,276.41 428.09,276.41 429.87,276.41 431.64,276.41 433.41,276.42 435.18,276.44 436.95,276.46 438.72,276.48 440.49,276.51 442.26,276.54 444.02,276.58 445.79,276.62 447.55,276.67 449.31,276.72 451.07,276.78 452.83,276.84 454.59,276.91 456.35,276.98 458.11,277.05 459.86,277.13 461.62,277.21 463.37,277.30 465.13,277.39 466.88,277.48 468.63,277.58 470.38,277.69 472.13,277.79 473.88,277.90 475.63,278.02 477.38,278.14 479.12,278.26 480.87,278.39 482.61,278.52 484.36,278.65 486.10,278.79 487.84,278.93 489.59,279.07 491.33,279.22 493.07,279.37 494.81,279.52 496.54,279.68 498.28,279.84 500.02,280.01 501.76,280.18 503.49,280.35 505.23,280.52 506.96,280.70 508.70,280.88 510.43,281.06 512.16,281.25 513.90,281.44 515.63,281.63 517.36,281.82 519.09,282.02 520.82,282.22 522.55,282.42 524.28,282.63 526.01,282.84 527.73,283.05 529.46,283.26 531.19,283.48 532.92,283.69 534.64,283.92 536.37,284.14 538.09,284.36 539.82,284.59 541.54,284.82 543.27,285.05 544.99,285.29 546.72,285.52 548.44,285.76 550.16,286.00 551.88,286.24 553.61,286.49 555.33,286.73 557.05,286.98 558.77,287.23 560.49,287.48 562.21,287.73 563.93,287.99 565.65,288.24 567.37,288.50 569.09,288.76 570.81,289.02 572.53,289.28 574.25,289.55 575.97,289.81 577.69,290.08 579.41,290.35 581.13,290.62 582.85,290.89 584.57,291.16 586.29,291.43 588.01,291.70 589.73,291.98 591.44,292.25 593.16,292.53 594.88,292.80 596.60,293.08 598.32,293.36 600.04,293.64 601.76,293.92 603.48,294.20 605.19,294.48 606.91,294.76 608.63,295.04 610.35,295.33 612.07,295.61 613.79,295.89 615.51,296.18 617.23,296.46 618.95,296.74 620.67,297.03 622.39,297.31 624.11,297.60 625.83,297.88 627.55,298.17 629.28,298.45 631.00,298.74 632.72,299.02 634.44,299.31 636.16,299.59 637.89,299.88 639.61,300.16 641.33,300.44 643.06,300.73 644.78,301.01 646.50,301.29 648.23,301.58 649.95,301.86 651.68,302.14 653.40,302.43 655.13,302.71 656.85,302.99 658.58,303.27 660.31,303.56 662.03,303.84 663.76,304.13 665.48,304.41 667.21,304.69 668.94,304.98 670.66,305.26 672.39,305.55 674.12,305.84 675.84,306.12 677.57,306.41 679.30,306.70 681.02,306.99 682.75,307.27 684.48,307.56 686.20,307.85 687.93,308.15 689.66,308.44 691.38,308.73 693.11,309.02 694.83,309.32 696.56,309.61 698.29,309.91 700.01,310.21 701.74,310.51 703.46,310.81 705.19,311.11 706.91,311.41 708.64,311.71 710.36,312.02 712.08,312.32 713.81,312.63 715.53,312.94 717.25,313.25 718.98,313.56 720.70,313.88 722.42,314.19 724.14,314.51 725.86,314.82 727.59,315.14 729.31,315.46 731.03,315.79 732.75,316.11 734.47,316.44 736.18,316.77 737.90,317.10 739.62,317.43 741.34,317.76 743.05,318.10 744.77,318.44 746.49,318.78 748.20,319.12 749.92,319.46 751.63,319.81 753.34,320.16 755.05,320.51 756.77,320.86 758.48,321.22 760.19,321.58 761.90,321.94 763.61,322.30 765.32,322.67 767.02,323.04 768.73,323.41 770.44,323.78 772.14,324.16 773.85,324.53 775.55,324.91 777.26,325.30 778.96,325.69 780.66,326.08 782.36,326.47 784.06,326.86 785.76,327.26 787.46,327.66 789.15,328.07 790.85,328.48 792.55,328.89 794.24,329.30 795.93,329.72 797.63,330.14 799.32,330.56 801.01,330.99 802.70,331.42 804.39,331.85 806.07,332.29 807.76,332.73 809.44,333.17 811.13,333.62 812.81,334.07 814.49,334.52" stroke="#ab9d58" stroke-width="2.2" fill="none" stroke-dasharray="8.4 8.8"/>
<path d="M115.80,235.50 116.47,235.43 117.15,235.35 117.82,235.29 118.50,235.22 119.17,235.16 119.85,235.10 120.53,235.04 121.20,234.99 121.88,234.94 122.56,234.90 123.25,234.86 123.93,234.82 124.61,234.78 125.29,234.75 125.98,234.72 126.66,234.69 127.35,234.67 128.04,234.65 128.73,234.63 129.41,234.61 130.10,234.60 130.79,234.59 131.48,234.58 132.17,234.57 132.86,234.57 133.56,234.57 134.25,234.57 134.94,234.57 135.64,234.57 136.33,234.58 137.03,234.58 137.72,234.59 138.42,234.60 139.12,234.62 139.81,234.63 140.51,234.65 141.21,234.66 141.91,234.68 142.60,234.70 143.30,234.72 144.00,234.74 144.70,234.76 145.40,234.79 146.10,234.81 146.81,234.84 147.51,234.86 148.21,234.89 148.91,234.92 149.61,234.94 150.32,234.97 151.02,235.00 151.72,235.03 152.42,235.06 153.13,235.09 153.83,235.12 154.53,235.15 155.24,235.18 155.94,235.21 156.65,235.24 157.35,235.27 158.05,235.30 158.76,235.33 159.46,235.35 160.17,235.38 160.87,235.41 161.57,235.44 162.28,235.46 162.98,235.49 163.69,235.51 164.39,235.53 165.09,235.56 165.80,235.58 166.50,235.60 167.21,235.62 167.91,235.64 168.61,235.65 169.32,235.67 170.02,235.68 170.72,235.69 171.42,235.70 172.13,235.71 172.83,235.72 173.53,235.73 174.23,235.73 174.93,235.73 175.63,235.73 176.33,235.73 177.03,235.72 177.73,235.72 178.43,235.71 179.13,235.70 179.83,235.68 180.53,235.67 181.22,235.65 181.92,235.63 182.62,235.60 183.31,235.57 184.01,235.54 184.71,235.51 185.40,235.48 186.09,235.44 186.79,235.40 187.48,235.35 188.17,235.30 188.86,235.25 189.56,235.20 190.25,235.14 190.94,235.07 191.63,235.01 192.31,234.94 193.00,234.87 193.69,234.79 194.37,234.71 195.06,234.62 195.74,234.54 196.43,234.44 197.11,234.35 197.79,234.25 198.47,234.14 199.16,234.03 199.83,233.92 200.51,233.80 201.19,233.67 201.87,233.55 202.54,233.41 203.22,233.28 203.89,233.13 204.57,232.99 205.24,232.84 205.91,232.68 206.58,232.52 207.25,232.35 207.92,232.18 208.58,232.00 209.25,231.81 209.91,231.63 210.58,231.43 211.24,231.23 211.90,231.03 212.56,230.81 213.22,230.60 213.88,230.37 214.53,230.15 215.19,229.91 215.84,229.67 216.49,229.43 217.14,229.17 217.79,228.92 218.43,228.65 219.08,228.39 219.72,228.11 220.36,227.83 220.99,227.55 221.63,227.25 222.26,226.96 222.88,226.65 223.51,226.35 224.13,226.03 224.75,225.71 225.37,225.39 225.98,225.06 226.59,224.72 227.19,224.38 227.79,224.03 228.39,223.67 228.99,223.32 229.58,222.95 230.16,222.58 230.75,222.20 231.32,221.82 231.90,221.43 232.47,221.04 233.03,220.64 233.59,220.24 234.15,219.83 234.70,219.41 235.25,218.99 235.79,218.56 236.33,218.13 236.86,217.69 237.38,217.25 237.90,216.80 238.42,216.35 238.93,215.89 239.43,215.42 239.93,214.95 240.42,214.47 240.91,213.99 241.39,213.50 241.86,213.01 242.33,212.51 242.79,212.00 243.24,211.49 243.69,210.98 244.13,210.46 244.56,209.93 244.99,209.40 245.41,208.86 245.83,208.32 246.23,207.77 246.63,207.21 247.02,206.65 247.41,206.09 247.78,205.52 248.15,204.94 248.51,204.36 248.87,203.77 249.21,203.18 249.55,202.58 249.89,201.98 250.21,201.38 250.53,200.77 250.85,200.15 251.15,199.53 251.45,198.91 251.74,198.28 252.03,197.65 252.31,197.02 252.58,196.38 252.85,195.74 253.11,195.10 253.37,194.45 253.62,193.80 253.86,193.15 254.10,192.50 254.34,191.84 254.56,191.18 254.79,190.52 255.00,189.85 255.22,189.18 255.42,188.52 255.62,187.85 255.82,187.17 256.01,186.50 256.20,185.83 256.38,185.15 256.56,184.47 256.73,183.79 256.90,183.12 257.07,182.44 257.23,181.76 257.38,181.07 257.54,180.39 257.69,179.71 257.83,179.02 257.97,178.34 258.11,177.66 258.24,176.97 258.37,176.28 258.50,175.60 258.62,174.91 258.74,174.22 258.86,173.53 258.97,172.84 259.08,172.15 259.19,171.46 259.30,170.77 259.40,170.08 259.50,169.39 259.60,168.70 259.69,168.00 259.79,167.31 259.88,166.62 259.97,165.92 260.05,165.23 260.14,164.54 260.22,163.84 260.30,163.15 260.38,162.45 260.46,161.76 260.53,161.06 260.61,160.37 260.68,159.68 260.75,158.98 260.82,158.29 260.89,157.59 260.96,156.90 261.03,156.20 261.10,155.51 261.17,154.81 261.23,154.12 261.30,153.42 261.36,152.73 261.43,152.03 261.49,151.34 261.56,150.65 261.62,149.95 261.69,149.26 261.75,148.57 261.82,147.87 261.88,147.18 261.95,146.49 262.01,145.80 262.07,145.10 262.14,144.41 262.20,143.72 262.27,143.03 262.33,142.34 262.39,141.65 262.46,140.96 262.52,140.27 262.58,139.58 262.65,138.89 262.71,138.20 262.77,137.51 262.83,136.82 262.90,136.13 262.96,135.44 263.02,134.75 263.08,134.06 263.14,133.37 263.20,132.69 263.26,132.00 263.32,131.31 263.38,130.62 263.44,129.93 263.50,129.24 263.56,128.56 263.62,127.87 263.67,127.18 263.73,126.49 263.79,125.80 263.84,125.12 263.90,124.43 263.96,123.74 264.01,123.05 264.07,122.36 264.12,121.68 264.17,120.99 264.23,120.30 264.28,119.61 264.33,118.93 264.38,118.24 264.43,117.55 264.48,116.86 264.53,116.17 264.58,115.49 264.63,114.80 264.68,114.11 264.72,113.42 264.77,112.73 264.82,112.05 264.86,111.36 264.91,110.67 264.95,109.98 264.99,109.29 265.03,108.60 265.08,107.92 265.12,107.23 265.16,106.54 265.19,105.85 265.23,105.16 265.27,104.47 265.31,103.78 265.34,103.09 265.38,102.40 265.41,101.71 265.44,101.02 265.48,100.33 265.51,99.64 265.54,98.95 265.57,98.26 265.60,97.57 265.62,96.88 265.65,96.18 265.68,95.49 265.70,94.80 265.73,94.11 265.75,93.42 265.77,92.72 265.79,92.03 265.81,91.34 265.83,90.64 265.85,89.95 265.86,89.26 265.88,88.56 265.89,87.87 265.90,87.17 265.92,86.48 265.93,85.78 265.94,85.08 265.95,84.39 265.95,83.69 265.96,83.00 265.96,82.30 265.97,81.60 265.97,80.90 265.97,80.20 265.97,79.51 265.97,78.81 265.97,78.11 265.96,77.41 265.96,76.71 265.95,76.01 265.94,75.31 265.93,74.60 265.92,73.90 265.91,73.20 265.90,72.50" stroke="#c07cab" stroke-width="2.5" fill="none" stroke-dasharray="2.4 9.1"/>
<path d="M273.00,72.50V504.20" stroke="#c07cab" stroke-width="2.5" fill="none" stroke-dasharray="2.4 9.1"/>
<path d="M277.99,504.20 278.19,502.33 278.38,500.47 278.57,498.60 278.74,496.74 278.90,494.88 279.05,493.01 279.20,491.15 279.33,489.30 279.46,487.44 279.58,485.58 279.68,483.72 279.79,481.87 279.88,480.01 279.97,478.16 280.05,476.31 280.12,474.45 280.19,472.60 280.25,470.75 280.30,468.90 280.35,467.05 280.39,465.20 280.43,463.35 280.47,461.50 280.50,459.65 280.52,457.80 280.54,455.95 280.56,454.11 280.58,452.26 280.59,450.41 280.60,448.56 280.60,446.71 280.61,444.87 280.61,443.02 280.61,441.17 280.61,439.33 280.61,437.48 280.60,435.63 280.60,433.78 280.60,431.93 280.59,430.09 280.59,428.24 280.59,426.39 280.59,424.54 280.59,422.69 280.59,420.84 280.59,418.99 280.59,417.14 280.60,415.29 280.61,413.43 280.62,411.58 280.64,409.73 280.66,407.87 280.68,406.02 280.71,404.16 280.74,402.31 280.78,400.45 280.82,398.59 280.86,396.73 280.92,394.87 280.97,393.01 281.04,391.15 281.11,389.28 281.18,387.42 281.26,385.55 281.35,383.69 281.45,381.82 281.56,379.95 281.67,378.08 281.79,376.21 281.92,374.34 282.06,372.46 282.21,370.58 282.36,368.71 282.53,366.83 282.71,364.95 282.90,363.07 283.09,361.18 283.30,359.30 283.52,357.41 283.75,355.52 283.99,353.63 284.25,351.74 284.52,349.84 284.79,347.95 285.09,346.05 285.39,344.15 285.71,342.25 286.04,340.34 286.39,338.44 286.75,336.54 287.13,334.64 287.53,332.74 287.95,330.86 288.40,328.98 288.86,327.11 289.35,325.26 289.87,323.42 290.41,321.60 290.98,319.79 291.58,318.00 292.21,316.24 292.88,314.50 293.58,312.78 294.31,311.09 295.08,309.43 295.89,307.80 296.73,306.20 297.62,304.64 298.55,303.11 299.52,301.63 300.54,300.18 301.60,298.77 302.71,297.40 303.87,296.08 305.07,294.80 306.31,293.57 307.59,292.37 308.92,291.23 310.28,290.12 311.68,289.06 313.11,288.04 314.58,287.06 316.08,286.13 317.61,285.24 319.17,284.40 320.76,283.59 322.38,282.83 324.02,282.12 325.68,281.44 327.37,280.81 329.08,280.23 330.80,279.68 332.54,279.18 334.30,278.73 336.08,278.31 337.87,277.94 339.67,277.62 341.47,277.33 343.29,277.09 345.12,276.88 346.96,276.71 348.81,276.57 350.66,276.47 352.52,276.39 354.38,276.35 356.26,276.33 358.13,276.33 360.01,276.35 361.89,276.39 363.78,276.45 365.67,276.52 367.56,276.61 369.45,276.70 371.34,276.81 373.24,276.92 375.13,277.03 377.02,277.15 378.90,277.27 380.79,277.40 382.68,277.53 384.57,277.66 386.45,277.80 388.33,277.94 390.22,278.08 392.10,278.22 393.98,278.38 395.86,278.53 397.74,278.69 399.62,278.85 401.49,279.01 403.37,279.18 405.25,279.35 407.12,279.52 408.99,279.70 410.87,279.88 412.74,280.07 414.61,280.25 416.48,280.45 418.35,280.64 420.22,280.84 422.08,281.04 423.95,281.24 425.81,281.45 427.68,281.66 429.54,281.88 431.40,282.09 433.27,282.31 435.13,282.54 436.99,282.76 438.85,282.99 440.70,283.23 442.56,283.46 444.42,283.70 446.27,283.95 448.13,284.19 449.98,284.44 451.84,284.69 453.69,284.95 455.54,285.21 457.39,285.47 459.24,285.73 461.09,286.00 462.94,286.27 464.79,286.54 466.63,286.82 468.48,287.10 470.32,287.38 472.17,287.67 474.01,287.96 475.85,288.25 477.69,288.54 479.54,288.84 481.38,289.14 483.22,289.44 485.05,289.75 486.89,290.05 488.73,290.37 490.57,290.68 492.40,291.00 494.24,291.32 496.07,291.64 497.90,291.96 499.74,292.29 501.57,292.62 503.40,292.96 505.23,293.29 507.06,293.63 508.89,293.97 510.72,294.32 512.55,294.66 514.37,295.01 516.20,295.37 518.03,295.72 519.85,296.08 521.67,296.44 523.50,296.80 525.32,297.17 527.14,297.53 528.96,297.90 530.79,298.28 532.61,298.65 534.43,299.03 536.24,299.41 538.06,299.79 539.88,300.18 541.70,300.57 543.51,300.96 545.33,301.35 547.14,301.75 548.96,302.14 550.77,302.54 552.59,302.95 554.40,303.35 556.21,303.76 558.02,304.17 559.83,304.58 561.64,304.99 563.45,305.41 565.26,305.83 567.07,306.25 568.88,306.67 570.68,307.10 572.49,307.52 574.30,307.95 576.10,308.39 577.91,308.82 579.71,309.26 581.52,309.70 583.32,310.14 585.12,310.58 586.92,311.03 588.73,311.47 590.53,311.92 592.33,312.37 594.13,312.83 595.93,313.28 597.73,313.74 599.52,314.20 601.32,314.66 603.12,315.13 604.92,315.59 606.71,316.06 608.51,316.53 610.30,317.00 612.10,317.47 613.89,317.95 615.69,318.43 617.48,318.91 619.27,319.39 621.07,319.87 622.86,320.36 624.65,320.84 626.44,321.33 628.23,321.82 630.02,322.31 631.81,322.81 633.60,323.31 635.39,323.80 637.18,324.30 638.97,324.80 640.75,325.31 642.54,325.81 644.33,326.32 646.11,326.83 647.90,327.34 649.69,327.85 651.47,328.36 653.26,328.88 655.04,329.39 656.82,329.91 658.61,330.43 660.39,330.95 662.17,331.48 663.96,332.00 665.74,332.53 667.52,333.06 669.30,333.58 671.08,334.12 672.86,334.65 674.64,335.18 676.42,335.72 678.20,336.25 679.98,336.79 681.76,337.33 683.54,337.87 685.32,338.42 687.10,338.96 688.87,339.50 690.65,340.05 692.43,340.60 694.20,341.15 695.98,341.70 697.76,342.25 699.53,342.81 701.31,343.36 703.08,343.92 704.86,344.47 706.63,345.03 708.41,345.59 710.18,346.15 711.95,346.72 713.73,347.28 715.50,347.84 717.27,348.41 719.05,348.98 720.82,349.55 722.59,350.12 724.36,350.69 726.14,351.26 727.91,351.83 729.68,352.40 731.45,352.98 733.22,353.56 734.99,354.13 736.76,354.71 738.53,355.29 740.30,355.87 742.07,356.45 743.84,357.03 745.61,357.62 747.38,358.20 749.15,358.79 750.92,359.37 752.69,359.96 754.46,360.55 756.22,361.14 757.99,361.73 759.76,362.32 761.53,362.91 763.30,363.50 765.06,364.09 766.83,364.69 768.60,365.28 770.37,365.88 772.13,366.48 773.90,367.07 775.67,367.67 777.43,368.27 779.20,368.87 780.97,369.47 782.73,370.07 784.50,370.67 786.27,371.27 788.03,371.88 789.80,372.48 791.56,373.08 793.33,373.69 795.09,374.29 796.86,374.90 798.63,375.51 800.39,376.11 802.16,376.72 803.92,377.33 805.69,377.94 807.45,378.55 809.22,379.16 810.98,379.77 812.75,380.38 814.51,380.99" stroke="#c07cab" stroke-width="2.5" fill="none" stroke-dasharray="2.4 9.1"/>
<path d="M115.80,235.50 116.45,235.49 117.10,235.47 117.76,235.45 118.41,235.43 119.06,235.42 119.71,235.40 120.36,235.39 121.01,235.38 121.66,235.37 122.31,235.36 122.96,235.35 123.61,235.34 124.26,235.33 124.91,235.32 125.55,235.32 126.20,235.31 126.85,235.31 127.50,235.30 128.14,235.30 128.79,235.30 129.44,235.29 130.08,235.29 130.73,235.29 131.38,235.29 132.02,235.29 132.67,235.29 133.32,235.29 133.96,235.29 134.61,235.29 135.25,235.29 135.90,235.29 136.54,235.29 137.19,235.29 137.83,235.30 138.48,235.30 139.12,235.30 139.77,235.30 140.41,235.31 141.05,235.31 141.70,235.31 142.34,235.31 142.99,235.31 143.63,235.32 144.27,235.32 144.92,235.32 145.56,235.32 146.21,235.32 146.85,235.33 147.49,235.33 148.14,235.33 148.78,235.33 149.42,235.33 150.07,235.33 150.71,235.33 151.36,235.33 152.00,235.33 152.64,235.32 153.29,235.32 153.93,235.32 154.58,235.31 155.22,235.31 155.86,235.31 156.51,235.30 157.15,235.29 157.80,235.29 158.44,235.28 159.09,235.27 159.73,235.26 160.38,235.25 161.02,235.24 161.67,235.23 162.31,235.22 162.96,235.20 163.60,235.19 164.25,235.17 164.89,235.15 165.54,235.14 166.19,235.12 166.83,235.10 167.48,235.08 168.13,235.05 168.77,235.03 169.42,235.01 170.07,234.98 170.72,234.95 171.36,234.92 172.01,234.89 172.66,234.86 173.31,234.83 173.96,234.79 174.61,234.76 175.26,234.72 175.91,234.68 176.56,234.64 177.21,234.60 177.86,234.56 178.51,234.51 179.16,234.46 179.81,234.41 180.46,234.36 181.12,234.31 181.77,234.26 182.42,234.20 183.08,234.14 183.73,234.08 184.38,234.02 185.04,233.96 185.69,233.89 186.35,233.83 187.01,233.76 187.66,233.69 188.32,233.61 188.98,233.54 189.63,233.46 190.29,233.38 190.95,233.30 191.61,233.21 192.27,233.12 192.92,233.03 193.58,232.94 194.24,232.84 194.89,232.74 195.55,232.63 196.20,232.52 196.85,232.40 197.50,232.28 198.14,232.16 198.79,232.03 199.43,231.89 200.07,231.74 200.70,231.59 201.33,231.44 201.96,231.27 202.58,231.10 203.20,230.92 203.81,230.73 204.42,230.53 205.03,230.33 205.63,230.12 206.22,229.89 206.81,229.66 207.39,229.42 207.96,229.17 208.53,228.91 209.09,228.63 209.65,228.35 210.20,228.06 210.74,227.75 211.27,227.44 211.80,227.11 212.31,226.77 212.83,226.43 213.33,226.07 213.82,225.70 214.31,225.33 214.79,224.94 215.26,224.54 215.72,224.14 216.18,223.72 216.62,223.30 217.06,222.86 217.49,222.42 217.91,221.96 218.32,221.50 218.72,221.03 219.11,220.55 219.49,220.06 219.87,219.56 220.23,219.06 220.59,218.54 220.94,218.02 221.28,217.49 221.61,216.95 221.93,216.41 222.24,215.86 222.55,215.30 222.84,214.73 223.13,214.16 223.42,213.58 223.69,213.00 223.96,212.41 224.22,211.81 224.48,211.21 224.72,210.61 224.96,210.00 225.20,209.38 225.43,208.76 225.65,208.14 225.87,207.51 226.08,206.88 226.28,206.25 226.48,205.61 226.68,204.97 226.87,204.33 227.05,203.69 227.23,203.04 227.41,202.39 227.58,201.74 227.74,201.09 227.90,200.43 228.06,199.78 228.22,199.12 228.37,198.47 228.52,197.81 228.66,197.15 228.80,196.50 228.94,195.84 229.08,195.19 229.21,194.53 229.34,193.88 229.47,193.23 229.59,192.57 229.72,191.92 229.84,191.27 229.96,190.63 230.07,189.98 230.19,189.33 230.30,188.69 230.41,188.04 230.52,187.40 230.63,186.75 230.73,186.11 230.83,185.47 230.93,184.83 231.03,184.18 231.13,183.54 231.22,182.90 231.32,182.26 231.41,181.62 231.50,180.98 231.58,180.34 231.67,179.70 231.76,179.06 231.84,178.42 231.92,177.78 232.00,177.14 232.08,176.50 232.16,175.87 232.23,175.23 232.30,174.59 232.38,173.95 232.45,173.31 232.52,172.67 232.59,172.03 232.65,171.39 232.72,170.75 232.79,170.11 232.85,169.47 232.91,168.84 232.97,168.20 233.03,167.56 233.09,166.92 233.15,166.28 233.21,165.64 233.26,165.00 233.32,164.36 233.37,163.72 233.43,163.08 233.48,162.44 233.53,161.81 233.58,161.17 233.63,160.53 233.68,159.89 233.73,159.25 233.78,158.61 233.82,157.97 233.87,157.33 233.91,156.69 233.96,156.05 234.00,155.41 234.05,154.77 234.09,154.13 234.13,153.48 234.17,152.84 234.22,152.20 234.26,151.56 234.30,150.92 234.34,150.28 234.38,149.64 234.42,148.99 234.46,148.35 234.50,147.71 234.54,147.07 234.58,146.42 234.62,145.78 234.65,145.14 234.69,144.49 234.73,143.85 234.77,143.21 234.81,142.56 234.84,141.92 234.88,141.27 234.92,140.63 234.96,139.98 234.99,139.34 235.03,138.69 235.07,138.05 235.10,137.40 235.14,136.75 235.17,136.11 235.21,135.46 235.25,134.82 235.28,134.17 235.32,133.52 235.35,132.88 235.39,132.23 235.42,131.58 235.45,130.93 235.49,130.29 235.52,129.64 235.55,128.99 235.59,128.34 235.62,127.70 235.65,127.05 235.69,126.40 235.72,125.75 235.75,125.10 235.78,124.45 235.81,123.81 235.84,123.16 235.88,122.51 235.91,121.86 235.94,121.21 235.97,120.56 236.00,119.91 236.03,119.26 236.05,118.62 236.08,117.97 236.11,117.32 236.14,116.67 236.17,116.02 236.20,115.37 236.22,114.72 236.25,114.07 236.28,113.42 236.30,112.77 236.33,112.12 236.36,111.47 236.38,110.82 236.41,110.17 236.43,109.52 236.46,108.88 236.48,108.23 236.50,107.58 236.53,106.93 236.55,106.28 236.57,105.63 236.60,104.98 236.62,104.33 236.64,103.68 236.66,103.03 236.68,102.38 236.70,101.73 236.72,101.08 236.74,100.44 236.76,99.79 236.78,99.14 236.80,98.49 236.82,97.84 236.84,97.19 236.85,96.54 236.87,95.89 236.89,95.25 236.90,94.60 236.92,93.95 236.93,93.30 236.95,92.65 236.96,92.01 236.98,91.36 236.99,90.71 237.01,90.06 237.02,89.42 237.03,88.77 237.04,88.12 237.06,87.47 237.07,86.83 237.08,86.18 237.09,85.53 237.10,84.89 237.11,84.24 237.12,83.60 237.13,82.95 237.13,82.30 237.14,81.66 237.15,81.01 237.16,80.37 237.16,79.72 237.17,79.08 237.17,78.43 237.18,77.79 237.18,77.15 237.19,76.50 237.19,75.86 237.19,75.21 237.20,74.57 237.20,73.93 237.20,73.29 237.20,72.64 237.20,72.00" stroke="#2b2b2b" stroke-width="2.0" fill="none" stroke-linejoin="round"/>
<path d="M240.40,72.1V503.4" stroke="#111" stroke-width="2.6"/>
<path d="M242.60,503.41 242.66,501.41 242.73,499.42 242.79,497.43 242.86,495.46 242.92,493.49 242.99,491.52 243.05,489.56 243.12,487.61 243.18,485.66 243.24,483.72 243.31,481.78 243.37,479.85 243.43,477.93 243.49,476.01 243.55,474.09 243.62,472.18 243.68,470.27 243.74,468.37 243.80,466.47 243.86,464.58 243.92,462.69 243.98,460.80 244.04,458.92 244.10,457.04 244.16,455.16 244.22,453.29 244.28,451.41 244.34,449.54 244.40,447.68 244.46,445.81 244.52,443.95 244.58,442.09 244.64,440.23 244.70,438.37 244.76,436.52 244.81,434.66 244.87,432.81 244.93,430.96 244.99,429.10 245.05,427.25 245.11,425.40 245.17,423.55 245.23,421.70 245.28,419.85 245.34,417.99 245.40,416.14 245.46,414.29 245.52,412.43 245.58,410.58 245.64,408.72 245.70,406.87 245.76,405.01 245.82,403.15 245.88,401.28 245.93,399.42 245.99,397.55 246.05,395.68 246.11,393.81 246.17,391.93 246.23,390.06 246.29,388.17 246.36,386.29 246.42,384.40 246.48,382.51 246.54,380.62 246.60,378.72 246.66,376.81 246.72,374.91 246.78,372.99 246.85,371.08 246.91,369.16 246.97,367.23 247.04,365.30 247.10,363.36 247.16,361.42 247.23,359.47 247.29,357.52 247.35,355.56 247.42,353.59 247.48,351.62 247.55,349.64 247.62,347.65 247.68,345.66 247.75,343.66 247.82,341.65 247.89,339.64 247.97,337.63 248.06,335.62 248.17,333.61 248.29,331.60 248.42,329.60 248.58,327.60 248.75,325.62 248.96,323.64 249.19,321.68 249.45,319.72 249.74,317.79 250.07,315.87 250.43,313.97 250.84,312.10 251.28,310.24 251.77,308.41 252.31,306.61 252.90,304.83 253.55,303.09 254.24,301.37 255.00,299.69 255.81,298.05 256.69,296.44 257.64,294.87 258.65,293.34 259.72,291.86 260.87,290.42 262.07,289.03 263.34,287.70 264.66,286.42 266.04,285.20 267.46,284.04 268.93,282.95 270.45,281.93 272.00,280.99 273.59,280.12 275.22,279.33 276.88,278.62 278.57,278.00 280.28,277.47 282.01,277.03 283.77,276.67 285.55,276.39 287.35,276.17 289.16,276.03 290.99,275.95 292.84,275.93 294.70,275.97 296.57,276.06 298.45,276.19 300.34,276.37 302.24,276.59 304.15,276.83 306.06,277.11 307.97,277.42 309.89,277.74 311.80,278.08 313.72,278.44 315.63,278.80 317.54,279.16 319.44,279.54 321.35,279.92 323.25,280.31 325.14,280.70 327.04,281.11 328.93,281.52 330.82,281.93 332.71,282.35 334.59,282.78 336.47,283.22 338.35,283.66 340.23,284.11 342.10,284.56 343.97,285.02 345.84,285.49 347.71,285.96 349.57,286.44 351.43,286.93 353.29,287.42 355.15,287.92 357.00,288.42 358.85,288.93 360.70,289.45 362.54,289.97 364.39,290.50 366.23,291.03 368.06,291.57 369.90,292.12 371.73,292.67 373.56,293.23 375.39,293.79 377.22,294.36 379.04,294.94 380.86,295.52 382.68,296.11 384.49,296.70 386.31,297.29 388.12,297.90 389.93,298.51 391.74,299.12 393.54,299.74 395.34,300.36 397.14,300.99 398.94,301.63 400.74,302.27 402.53,302.91 404.32,303.56 406.11,304.22 407.90,304.88 409.68,305.55 411.46,306.22 413.24,306.89 415.02,307.57 416.80,308.26 418.57,308.95 420.34,309.64 422.11,310.34 423.88,311.05 425.64,311.76 427.41,312.47 429.17,313.19 430.93,313.91 432.68,314.64 434.44,315.37 436.19,316.11 437.94,316.85 439.69,317.60 441.44,318.35 443.18,319.10 444.93,319.86 446.67,320.62 448.41,321.39 450.15,322.16 451.88,322.94 453.62,323.72 455.35,324.50 457.08,325.29 458.81,326.08 460.53,326.88 462.26,327.68 463.98,328.48 465.70,329.29 467.42,330.10 469.14,330.91 470.85,331.73 472.57,332.55 474.28,333.38 475.99,334.21 477.70,335.04 479.40,335.88 481.11,336.72 482.81,337.56 484.51,338.41 486.22,339.26 487.91,340.11 489.61,340.97 491.31,341.83 493.00,342.69 494.69,343.56 496.38,344.43 498.07,345.30 499.76,346.18 501.45,347.06 503.13,347.94 504.81,348.83 506.50,349.72 508.18,350.61 509.85,351.50 511.53,352.40 513.21,353.30 514.88,354.20 516.55,355.10 518.23,356.01 519.90,356.92 521.56,357.84 523.23,358.75 524.90,359.67 526.56,360.59 528.23,361.51 529.89,362.44 531.55,363.37 533.21,364.30 534.87,365.23 536.52,366.16 538.18,367.10 539.83,368.04 541.49,368.98 543.14,369.92 544.79,370.87 546.44,371.82 548.08,372.77 549.73,373.72 551.38,374.67 553.02,375.63 554.66,376.59 556.31,377.55 557.95,378.51 559.59,379.48 561.22,380.45 562.86,381.41 564.50,382.39 566.13,383.36 567.76,384.34 569.39,385.31 571.02,386.29 572.65,387.28 574.28,388.26 575.91,389.25 577.53,390.24 579.16,391.23 580.78,392.22 582.40,393.22 584.02,394.21 585.64,395.21 587.25,396.21 588.87,397.22 590.48,398.22 592.10,399.23 593.71,400.24 595.32,401.25 596.93,402.27 598.54,403.29 600.14,404.31 601.75,405.33 603.35,406.35 604.95,407.38 606.55,408.40 608.15,409.43 609.75,410.46 611.35,411.50 612.94,412.53 614.54,413.57 616.13,414.61 617.72,415.66 619.31,416.70 620.90,417.75 622.49,418.80 624.07,419.85 625.66,420.90 627.24,421.96 628.82,423.02 630.40,424.08 631.98,425.14 633.56,426.20 635.13,427.27 636.71,428.34 638.28,429.41 639.85,430.48 641.42,431.56 642.99,432.63 644.56,433.71 646.12,434.79 647.69,435.88 649.25,436.96 650.81,438.05 652.37,439.14 653.93,440.23 655.49,441.33 657.04,442.42 658.60,443.52 660.15,444.62 661.70,445.73 663.25,446.83 664.80,447.94 666.34,449.05 667.89,450.16 669.43,451.28 670.97,452.39 672.52,453.51 674.05,454.63 675.59,455.75 677.13,456.88 678.66,458.00 680.20,459.13 681.73,460.26 683.26,461.40 684.79,462.53 686.31,463.67 687.84,464.81 689.36,465.95 690.88,467.10 692.40,468.24 693.92,469.39 695.44,470.54 696.96,471.70 698.47,472.85 699.98,474.01 701.50,475.17 703.01,476.33 704.51,477.49 706.02,478.66 707.53,479.83 709.03,481.00 710.53,482.17 712.03,483.34 713.53,484.52 715.03,485.70 716.52,486.88 718.02,488.06 719.51,489.25 721.00,490.43 722.49,491.62 723.98,492.82 725.46,494.01 726.95,495.21 728.43,496.40 729.91,497.60 731.39,498.81 732.87,500.01 734.34,501.22 735.82,502.43 737.29,503.64 738.76,504.85" stroke="#2b2b2b" stroke-width="2.0" fill="none" stroke-linejoin="round"/>
<path d="M918.20,89.89 919.98,89.71 921.76,89.54 923.54,89.37 925.32,89.20 927.10,89.03 928.88,88.86 930.66,88.69 932.44,88.53 934.22,88.36 936.01,88.19 937.79,88.02 939.57,87.86 941.35,87.69 943.14,87.53 944.92,87.37 946.70,87.20 948.49,87.04 950.27,86.88 952.05,86.72 953.84,86.56 955.62,86.40 957.41,86.24 959.19,86.08 960.98,85.93 962.76,85.77 964.55,85.62 966.34,85.46 968.12,85.31 969.91,85.16 971.70,85.01 973.48,84.86 975.27,84.71 977.06,84.57 978.84,84.42 980.63,84.27 982.42,84.13 984.21,83.99 986.00,83.85 987.79,83.71 989.57,83.57 991.36,83.43 993.15,83.29 994.94,83.16 996.73,83.02 998.52,82.89 1000.31,82.76 1002.10,82.63 1003.89,82.50 1005.68,82.38 1007.47,82.25 1009.26,82.13 1011.05,82.01 1012.84,81.88 1014.63,81.77 1016.42,81.65 1018.21,81.53 1020.01,81.42 1021.80,81.30 1023.59,81.19 1025.38,81.08 1027.17,80.98 1028.96,80.87 1030.75,80.77 1032.55,80.66 1034.34,80.56 1036.13,80.46 1037.92,80.37 1039.71,80.27 1041.51,80.18 1043.30,80.09 1045.09,80.00 1046.88,79.91 1048.67,79.82 1050.47,79.74 1052.26,79.66 1054.05,79.58 1055.84,79.50 1057.64,79.43 1059.43,79.35 1061.22,79.28 1063.01,79.21 1064.81,79.14 1066.60,79.08 1068.39,79.02 1070.18,78.96 1071.98,78.90 1073.77,78.84 1075.56,78.79 1077.35,78.74 1079.15,78.69 1080.94,78.64 1082.73,78.60 1084.52,78.55 1086.31,78.51 1088.11,78.48 1089.90,78.44 1091.69,78.41 1093.48,78.38 1095.27,78.35 1097.07,78.33 1098.86,78.31 1100.65,78.29 1102.44,78.27 1104.23,78.26 1106.02,78.24 1107.81,78.24 1109.61,78.23 1111.40,78.23 1113.19,78.23 1114.98,78.23 1116.77,78.23 1118.56,78.24 1120.35,78.25 1122.14,78.26 1123.93,78.28 1125.72,78.30 1127.51,78.32 1129.30,78.34 1131.09,78.37 1132.88,78.40 1134.67,78.44 1136.46,78.47 1138.25,78.51 1140.03,78.56 1141.82,78.60 1143.61,78.65 1145.40,78.70 1147.19,78.76 1148.98,78.82 1150.76,78.88 1152.55,78.94 1154.34,79.01 1156.12,79.08 1157.91,79.16 1159.70,79.23 1161.48,79.32 1163.27,79.40 1165.06,79.49 1166.84,79.58 1168.63,79.67 1170.41,79.77 1172.20,79.87 1173.98,79.98 1175.77,80.09 1177.55,80.20 1179.33,80.31 1181.12,80.43 1182.90,80.56 1184.68,80.68 1186.47,80.81 1188.25,80.94 1190.03,81.08 1191.81,81.22 1193.60,81.36 1195.38,81.51 1197.16,81.66 1198.94,81.81 1200.72,81.97 1202.50,82.13 1204.28,82.29 1206.06,82.46 1207.84,82.63 1209.62,82.80 1211.40,82.97 1213.17,83.15 1214.95,83.34 1216.73,83.52 1218.51,83.71 1220.29,83.91 1222.06,84.10 1223.84,84.30 1225.62,84.50 1227.39,84.71 1229.17,84.92 1230.94,85.13 1232.72,85.34 1234.49,85.56 1236.27,85.78 1238.04,86.01 1239.81,86.24 1241.59,86.47 1243.36,86.70 1245.13,86.94 1246.90,87.18 1248.68,87.42 1250.45,87.67 1252.22,87.92 1253.99,88.17 1255.76,88.42 1257.53,88.68 1259.30,88.94 1261.07,89.21 1262.84,89.48 1264.61,89.75 1266.38,90.02 1268.14,90.30 1269.91,90.58 1271.68,90.86 1273.45,91.14 1275.21,91.43 1276.98,91.72 1278.75,92.02 1280.51,92.31 1282.28,92.61 1284.04,92.92 1285.80,93.22 1287.57,93.53 1289.33,93.84 1291.09,94.15 1292.86,94.47 1294.62,94.79 1296.38,95.11 1298.14,95.44 1299.90,95.77 1301.66,96.10 1303.42,96.43 1305.18,96.77 1306.94,97.11 1308.70,97.45 1310.46,97.79 1312.22,98.14 1313.98,98.49 1315.73,98.84 1317.49,99.20 1319.25,99.56 1321.00,99.92 1322.76,100.28 1324.51,100.65 1326.27,101.02 1328.02,101.39 1329.78,101.76 1331.53,102.14 1333.28,102.52 1335.03,102.90 1336.79,103.28 1338.54,103.67 1340.29,104.06 1342.04,104.45 1343.79,104.85 1345.54,105.24 1347.29,105.64 1349.04,106.04 1350.79,106.45 1352.53,106.86 1354.28,107.27 1356.03,107.68 1357.77,108.09 1359.52,108.51 1361.27,108.93 1363.01,109.35 1364.75,109.77 1366.50,110.20 1368.24,110.63 1369.99,111.06 1371.73,111.49 1373.47,111.93 1375.21,112.37 1376.95,112.81 1378.69,113.25 1380.43,113.70 1382.17,114.14 1383.91,114.59 1385.65,115.05 1387.39,115.50 1389.12,115.96 1390.86,116.42 1392.60,116.88 1394.33,117.34 1396.07,117.81 1397.80,118.28 1399.54,118.75 1401.27,119.22 1403.01,119.69 1404.74,120.17 1406.47,120.65 1408.20,121.13 1409.93,121.61 1411.66,122.10 1413.39,122.58 1415.12,123.07 1416.85,123.57 1418.58,124.06 1420.31,124.56 1422.03,125.05 1423.76,125.55 1425.49,126.06 1427.21,126.56 1428.94,127.07 1430.66,127.57 1432.39,128.08 1434.11,128.60 1435.83,129.11 1437.55,129.63 1439.28,130.14 1441.00,130.66 1442.72,131.19 1444.44,131.71 1446.16,132.24 1447.87,132.76 1449.59,133.29 1451.31,133.82 1453.03,134.36 1454.74,134.89 1456.46,135.43 1458.17,135.97 1459.89,136.51 1461.60,137.05 1463.31,137.60 1465.03,138.14 1466.74,138.69 1468.45,139.24 1470.16,139.79 1471.87,140.35 1473.58,140.90 1475.29,141.46 1477.00,142.02 1478.71,142.58 1480.41,143.14 1482.12,143.71 1483.82,144.27 1485.53,144.84 1487.23,145.41 1488.94,145.98 1490.64,146.55 1492.34,147.13 1494.05,147.70 1495.75,148.28 1497.45,148.86 1499.15,149.44 1500.85,150.02 1502.55,150.61 1504.24,151.19 1505.94,151.78 1507.64,152.37 1509.33,152.96 1511.03,153.55 1512.72,154.14 1514.42,154.74 1516.11,155.33 1517.80,155.93 1519.50,156.53 1521.19,157.13 1522.88,157.73 1524.57,158.34 1526.26,158.94 1527.94,159.55 1529.63,160.16 1531.32,160.77 1533.01,161.38 1534.69,161.99 1536.38,162.60 1538.06,163.22 1539.75,163.83 1541.43,164.45 1543.11,165.07 1544.79,165.69 1546.47,166.31 1548.15,166.94 1549.83,167.56 1551.51,168.19 1553.19,168.81 1554.87,169.44 1556.54,170.07 1558.22,170.70 1559.89,171.33 1561.57,171.97 1563.24,172.60 1564.91,173.24 1566.59,173.87 1568.26,174.51 1569.93,175.15 1571.60,175.79 1573.27,176.43 1574.94,177.08 1576.60,177.72 1578.27,178.37 1579.94,179.01 1581.60,179.66 1583.27,180.31 1584.93,180.96 1586.59,181.61 1588.26,182.26 1589.92,182.91 1591.58,183.57 1593.24,184.22 1594.90,184.88 1596.56,185.53 1598.21,186.19 1599.87,186.85 1601.53,187.51 1603.18,188.17 1604.84,188.83 1606.49,189.50 1608.14,190.16 1609.80,190.83 1611.45,191.49 1613.10,192.16 1614.75,192.83 1616.40,193.49" stroke="#55a872" stroke-width="2.2" fill="none" stroke-dasharray="8.8 9.6 2.2 9.6"/>
<path d="M918.21,89.87 920.02,89.64 921.84,89.42 923.66,89.20 925.47,88.97 927.29,88.75 929.11,88.53 930.93,88.31 932.75,88.09 934.57,87.87 936.39,87.65 938.21,87.43 940.03,87.21 941.85,87.00 943.68,86.78 945.50,86.57 947.32,86.35 949.14,86.14 950.97,85.93 952.79,85.72 954.62,85.51 956.44,85.31 958.26,85.10 960.09,84.90 961.92,84.70 963.74,84.50 965.57,84.30 967.39,84.11 969.22,83.91 971.05,83.72 972.87,83.53 974.70,83.34 976.53,83.16 978.36,82.97 980.19,82.79 982.02,82.61 983.84,82.44 985.67,82.26 987.50,82.09 989.33,81.92 991.16,81.76 992.99,81.59 994.82,81.43 996.65,81.28 998.48,81.12 1000.32,80.97 1002.15,80.82 1003.98,80.68 1005.81,80.53 1007.64,80.40 1009.47,80.26 1011.30,80.13 1013.14,80.00 1014.97,79.87 1016.80,79.75 1018.63,79.64 1020.47,79.52 1022.30,79.41 1024.13,79.31 1025.97,79.20 1027.80,79.10 1029.63,79.01 1031.47,78.92 1033.30,78.83 1035.13,78.75 1036.97,78.67 1038.80,78.60 1040.63,78.53 1042.47,78.47 1044.30,78.41 1046.14,78.35 1047.97,78.30 1049.81,78.26 1051.64,78.22 1053.47,78.18 1055.31,78.15 1057.14,78.12 1058.98,78.10 1060.81,78.08 1062.64,78.07 1064.48,78.07 1066.31,78.06 1068.15,78.07 1069.98,78.07 1071.81,78.09 1073.65,78.10 1075.48,78.12 1077.32,78.15 1079.15,78.18 1080.98,78.22 1082.82,78.26 1084.65,78.30 1086.48,78.35 1088.31,78.41 1090.15,78.47 1091.98,78.53 1093.81,78.60 1095.64,78.67 1097.48,78.75 1099.31,78.83 1101.14,78.92 1102.97,79.01 1104.80,79.11 1106.63,79.21 1108.46,79.31 1110.29,79.42 1112.12,79.54 1113.95,79.66 1115.78,79.78 1117.61,79.91 1119.43,80.04 1121.26,80.18 1123.09,80.32 1124.92,80.47 1126.74,80.62 1128.57,80.77 1130.39,80.93 1132.22,81.09 1134.04,81.26 1135.87,81.43 1137.69,81.61 1139.52,81.79 1141.34,81.98 1143.16,82.17 1144.98,82.36 1146.81,82.56 1148.63,82.76 1150.45,82.97 1152.27,83.18 1154.09,83.40 1155.91,83.62 1157.72,83.84 1159.54,84.07 1161.36,84.30 1163.17,84.54 1164.99,84.78 1166.81,85.03 1168.62,85.28 1170.43,85.53 1172.25,85.79 1174.06,86.05 1175.87,86.32 1177.68,86.59 1179.49,86.87 1181.30,87.15 1183.11,87.43 1184.92,87.72 1186.73,88.01 1188.53,88.30 1190.34,88.60 1192.14,88.91 1193.95,89.21 1195.75,89.53 1197.55,89.84 1199.36,90.16 1201.16,90.49 1202.96,90.81 1204.76,91.15 1206.56,91.48 1208.35,91.82 1210.15,92.17 1211.95,92.51 1213.74,92.87 1215.54,93.22 1217.33,93.58 1219.12,93.94 1220.92,94.31 1222.71,94.68 1224.50,95.06 1226.29,95.44 1228.08,95.82 1229.87,96.20 1231.65,96.59 1233.44,96.99 1235.22,97.39 1237.01,97.79 1238.79,98.19 1240.58,98.60 1242.36,99.01 1244.14,99.43 1245.92,99.85 1247.70,100.27 1249.48,100.70 1251.26,101.13 1253.04,101.56 1254.81,102.00 1256.59,102.44 1258.37,102.88 1260.14,103.33 1261.91,103.78 1263.69,104.24 1265.46,104.70 1267.23,105.16 1269.00,105.63 1270.77,106.09 1272.54,106.57 1274.31,107.04 1276.07,107.52 1277.84,108.00 1279.61,108.49 1281.37,108.98 1283.13,109.47 1284.90,109.97 1286.66,110.47 1288.42,110.97 1290.18,111.47 1291.94,111.98 1293.70,112.49 1295.46,113.01 1297.22,113.53 1298.97,114.05 1300.73,114.58 1302.48,115.10 1304.24,115.63 1305.99,116.17 1307.74,116.71 1309.50,117.25 1311.25,117.79 1313.00,118.34 1314.75,118.89 1316.50,119.44 1318.24,119.99 1319.99,120.55 1321.74,121.12 1323.48,121.68 1325.23,122.25 1326.97,122.82 1328.71,123.39 1330.45,123.97 1332.20,124.55 1333.94,125.13 1335.68,125.72 1337.41,126.30 1339.15,126.89 1340.89,127.49 1342.63,128.08 1344.36,128.68 1346.10,129.29 1347.83,129.89 1349.56,130.50 1351.30,131.11 1353.03,131.72 1354.76,132.34 1356.49,132.96 1358.22,133.58 1359.95,134.20 1361.67,134.83 1363.40,135.46 1365.13,136.09 1366.85,136.72 1368.58,137.36 1370.30,138.00 1372.02,138.64 1373.74,139.28 1375.46,139.93 1377.18,140.58 1378.90,141.23 1380.62,141.89 1382.34,142.54 1384.06,143.20 1385.77,143.87 1387.49,144.53 1389.20,145.20 1390.92,145.87 1392.63,146.54 1394.34,147.21 1396.05,147.89 1397.76,148.57 1399.47,149.25 1401.18,149.93 1402.89,150.62 1404.60,151.30 1406.30,151.99 1408.01,152.69 1409.71,153.38 1411.42,154.08 1413.12,154.77 1414.82,155.48 1416.52,156.18 1418.23,156.88 1419.93,157.59 1421.62,158.30 1423.32,159.01 1425.02,159.73 1426.72,160.44 1428.41,161.16 1430.11,161.88 1431.80,162.60 1433.49,163.33 1435.19,164.05 1436.88,164.78 1438.57,165.51 1440.26,166.24 1441.95,166.98 1443.64,167.71 1445.33,168.45 1447.01,169.19 1448.70,169.93 1450.38,170.67 1452.07,171.42 1453.75,172.17 1455.43,172.91 1457.12,173.66 1458.80,174.42 1460.48,175.17 1462.16,175.93 1463.84,176.69 1465.51,177.44 1467.19,178.21 1468.87,178.97 1470.54,179.73 1472.22,180.50 1473.89,181.27 1475.56,182.04 1477.24,182.81 1478.91,183.58 1480.58,184.35 1482.25,185.13 1483.92,185.91 1485.59,186.69 1487.25,187.47 1488.92,188.25 1490.59,189.03 1492.25,189.82 1493.91,190.60 1495.58,191.39 1497.24,192.18 1498.90,192.97 1500.56,193.76 1502.22,194.56 1503.88,195.35 1505.54,196.15 1507.20,196.95 1508.85,197.75 1510.51,198.55 1512.17,199.35 1513.82,200.15 1515.47,200.96 1517.13,201.76 1518.78,202.57 1520.43,203.38 1522.08,204.18 1523.73,205.00 1525.38,205.81 1527.02,206.62 1528.67,207.43 1530.32,208.25 1531.96,209.06 1533.61,209.88 1535.25,210.70 1536.89,211.52 1538.54,212.34 1540.18,213.16 1541.82,213.98 1543.46,214.81 1545.10,215.63 1546.73,216.46 1548.37,217.29 1550.01,218.11 1551.64,218.94 1553.28,219.77 1554.91,220.60 1556.54,221.43 1558.18,222.26 1559.81,223.10 1561.44,223.93 1563.07,224.77 1564.70,225.60 1566.33,226.44 1567.95,227.28 1569.58,228.11 1571.20,228.95 1572.83,229.79 1574.45,230.63 1576.08,231.47 1577.70,232.31 1579.32,233.16 1580.94,234.00 1582.56,234.84 1584.18,235.69 1585.80,236.53 1587.42,237.38 1589.03,238.22 1590.65,239.07 1592.26,239.92 1593.88,240.77 1595.49,241.61 1597.10,242.46 1598.72,243.31 1600.33,244.16 1601.94,245.01 1603.55,245.86 1605.16,246.72 1606.76,247.57 1608.37,248.42 1609.98,249.27 1611.58,250.13 1613.19,250.98 1614.79,251.83 1616.39,252.69" stroke="#ab9d58" stroke-width="2.2" fill="none" stroke-dasharray="8.4 8.8"/>
<path d="M918.20,89.90 920.14,89.59 922.08,89.27 924.02,88.96 925.96,88.66 927.90,88.35 929.84,88.05 931.79,87.75 933.73,87.45 935.68,87.16 937.62,86.87 939.57,86.58 941.52,86.29 943.47,86.01 945.42,85.73 947.37,85.46 949.32,85.19 951.27,84.92 953.22,84.66 955.18,84.40 957.13,84.15 959.08,83.90 961.04,83.65 962.99,83.41 964.95,83.17 966.91,82.94 968.87,82.71 970.82,82.48 972.78,82.27 974.74,82.05 976.70,81.84 978.66,81.64 980.62,81.44 982.58,81.25 984.54,81.06 986.50,80.88 988.46,80.71 990.42,80.54 992.38,80.37 994.34,80.21 996.30,80.06 998.27,79.92 1000.23,79.78 1002.19,79.64 1004.15,79.52 1006.11,79.40 1008.08,79.29 1010.04,79.18 1012.00,79.08 1013.96,78.99 1015.92,78.90 1017.88,78.82 1019.85,78.75 1021.81,78.69 1023.77,78.64 1025.73,78.59 1027.69,78.55 1029.65,78.52 1031.61,78.49 1033.57,78.48 1035.53,78.47 1037.49,78.47 1039.45,78.48 1041.41,78.49 1043.36,78.52 1045.32,78.55 1047.28,78.60 1049.23,78.65 1051.19,78.71 1053.14,78.78 1055.10,78.86 1057.05,78.95 1059.01,79.04 1060.96,79.15 1062.91,79.26 1064.86,79.39 1066.81,79.52 1068.76,79.66 1070.71,79.81 1072.66,79.96 1074.61,80.13 1076.56,80.30 1078.51,80.49 1080.45,80.68 1082.40,80.88 1084.34,81.08 1086.28,81.30 1088.23,81.52 1090.17,81.75 1092.11,81.99 1094.05,82.24 1095.99,82.50 1097.93,82.76 1099.86,83.03 1101.80,83.31 1103.74,83.60 1105.67,83.89 1107.60,84.19 1109.54,84.50 1111.47,84.82 1113.40,85.15 1115.33,85.48 1117.26,85.82 1119.18,86.16 1121.11,86.52 1123.03,86.88 1124.96,87.25 1126.88,87.62 1128.80,88.01 1130.72,88.40 1132.64,88.79 1134.56,89.20 1136.48,89.61 1138.39,90.03 1140.31,90.45 1142.22,90.88 1144.13,91.32 1146.04,91.76 1147.95,92.21 1149.86,92.67 1151.77,93.14 1153.67,93.61 1155.58,94.08 1157.48,94.57 1159.38,95.06 1161.28,95.55 1163.18,96.05 1165.08,96.56 1166.97,97.08 1168.87,97.60 1170.76,98.12 1172.65,98.66 1174.54,99.19 1176.43,99.74 1178.31,100.29 1180.20,100.84 1182.08,101.41 1183.96,101.97 1185.85,102.55 1187.72,103.12 1189.60,103.71 1191.48,104.30 1193.35,104.89 1195.22,105.49 1197.09,106.10 1198.96,106.71 1200.83,107.32 1202.69,107.94 1204.56,108.57 1206.42,109.20 1208.28,109.84 1210.14,110.48 1211.99,111.13 1213.85,111.78 1215.70,112.43 1217.55,113.09 1219.40,113.76 1221.25,114.43 1223.09,115.10 1224.94,115.78 1226.78,116.47 1228.62,117.15 1230.45,117.85 1232.29,118.54 1234.12,119.25 1235.96,119.95 1237.79,120.66 1239.61,121.38 1241.44,122.10 1243.26,122.82 1245.09,123.55 1246.91,124.28 1248.72,125.02 1250.54,125.76 1252.36,126.51 1254.17,127.26 1255.98,128.01 1257.79,128.77 1259.59,129.53 1261.40,130.30 1263.20,131.07 1265.00,131.85 1266.80,132.63 1268.60,133.41 1270.40,134.20 1272.19,134.99 1273.98,135.79 1275.77,136.59 1277.56,137.39 1279.35,138.20 1281.13,139.01 1282.91,139.83 1284.70,140.65 1286.47,141.47 1288.25,142.30 1290.03,143.13 1291.80,143.97 1293.57,144.81 1295.34,145.65 1297.11,146.50 1298.87,147.36 1300.64,148.21 1302.40,149.07 1304.16,149.93 1305.92,150.80 1307.68,151.67 1309.43,152.55 1311.18,153.43 1312.94,154.31 1314.68,155.20 1316.43,156.09 1318.18,156.98 1319.92,157.88 1321.66,158.78 1323.40,159.68 1325.14,160.59 1326.88,161.51 1328.61,162.42 1330.35,163.34 1332.08,164.26 1333.81,165.19 1335.54,166.12 1337.26,167.05 1338.99,167.99 1340.71,168.93 1342.43,169.88 1344.15,170.82 1345.86,171.77 1347.58,172.73 1349.29,173.69 1351.00,174.65 1352.71,175.61 1354.42,176.58 1356.13,177.55 1357.83,178.53 1359.54,179.51 1361.24,180.49 1362.94,181.47 1364.63,182.46 1366.33,183.45 1368.02,184.45 1369.71,185.44 1371.40,186.45 1373.09,187.45 1374.78,188.46 1376.46,189.47 1378.15,190.48 1379.83,191.50 1381.51,192.52 1383.19,193.54 1384.86,194.57 1386.54,195.60 1388.21,196.63 1389.88,197.67 1391.55,198.70 1393.22,199.75 1394.89,200.79 1396.55,201.84 1398.21,202.89 1399.87,203.94 1401.53,205.00 1403.19,206.06 1404.84,207.12 1406.50,208.18 1408.15,209.25 1409.80,210.32 1411.45,211.40 1413.10,212.47 1414.74,213.55 1416.39,214.63 1418.03,215.72 1419.67,216.81 1421.31,217.90 1422.94,218.99 1424.58,220.09 1426.21,221.18 1427.84,222.28 1429.47,223.39 1431.10,224.49 1432.73,225.60 1434.36,226.72 1435.98,227.83 1437.60,228.95 1439.22,230.07 1440.84,231.19 1442.46,232.31 1444.07,233.44 1445.68,234.57 1447.30,235.70 1448.91,236.83 1450.51,237.97 1452.12,239.11 1453.73,240.25 1455.33,241.40 1456.93,242.54 1458.53,243.69 1460.13,244.84 1461.73,246.00 1463.32,247.15 1464.92,248.31 1466.51,249.47 1468.10,250.63 1469.69,251.80 1471.28,252.96 1472.86,254.13 1474.44,255.31 1476.03,256.48 1477.61,257.65 1479.19,258.83 1480.76,260.01 1482.34,261.20 1483.91,262.38 1485.49,263.57 1487.06,264.76 1488.63,265.95 1490.19,267.14 1491.76,268.33 1493.33,269.53 1494.89,270.73 1496.45,271.93 1498.01,273.13 1499.57,274.34 1501.12,275.54 1502.68,276.75 1504.23,277.96 1505.78,279.18 1507.33,280.39 1508.88,281.61 1510.43,282.82 1511.98,284.04 1513.52,285.27 1515.06,286.49 1516.60,287.71 1518.14,288.94 1519.68,290.17 1521.22,291.40 1522.75,292.63 1524.28,293.87 1525.82,295.10 1527.35,296.34 1528.87,297.58 1530.40,298.82 1531.93,300.06 1533.45,301.30 1534.97,302.55 1536.49,303.79 1538.01,305.04 1539.53,306.29 1541.05,307.54 1542.56,308.80 1544.07,310.05 1545.58,311.31 1547.09,312.56 1548.60,313.82 1550.11,315.08 1551.62,316.35 1553.12,317.61 1554.62,318.87 1556.12,320.14 1557.62,321.41 1559.12,322.67 1560.62,323.94 1562.11,325.21 1563.60,326.49 1565.10,327.76 1566.59,329.03 1568.07,330.31 1569.56,331.59 1571.05,332.87 1572.53,334.15 1574.02,335.43 1575.50,336.71 1576.98,337.99 1578.45,339.28 1579.93,340.56 1581.41,341.85 1582.88,343.13 1584.35,344.42 1585.82,345.71 1587.29,347.00 1588.76,348.29 1590.23,349.59 1591.69,350.88 1593.16,352.17 1594.62,353.47 1596.08,354.77 1597.54,356.06 1599.00,357.36 1600.45,358.66 1601.91,359.96 1603.36,361.26 1604.82,362.56 1606.27,363.86 1607.72,365.17 1609.16,366.47 1610.61,367.78 1612.05,369.08 1613.50,370.39 1614.94,371.69 1616.38,373.00" stroke="#c07cab" stroke-width="2.5" fill="none" stroke-dasharray="2.4 9.1"/>
<path d="M918.21,89.85 919.96,89.77 921.72,89.66 923.48,89.53 925.24,89.38 927.00,89.20 928.77,89.01 930.54,88.80 932.32,88.56 934.10,88.31 935.88,88.05 937.67,87.76 939.45,87.47 941.24,87.16 943.04,86.84 944.83,86.51 946.63,86.17 948.43,85.82 950.23,85.47 952.04,85.10 953.84,84.74 955.65,84.37 957.46,83.99 959.27,83.62 961.08,83.24 962.90,82.86 964.71,82.49 966.53,82.11 968.34,81.75 970.16,81.38 971.98,81.02 973.80,80.67 975.62,80.33 977.44,80.00 979.26,79.67 981.08,79.36 982.90,79.06 984.72,78.78 986.54,78.50 988.36,78.25 990.18,78.01 991.99,77.79 993.81,77.59 995.63,77.41 997.44,77.25 999.26,77.11 1001.07,77.00 1002.89,76.91 1004.70,76.85 1006.51,76.81 1008.31,76.81 1010.12,76.82 1011.92,76.87 1013.73,76.94 1015.53,77.04 1017.32,77.17 1019.12,77.31 1020.91,77.49 1022.71,77.69 1024.50,77.91 1026.28,78.15 1028.07,78.42 1029.85,78.71 1031.63,79.03 1033.41,79.36 1035.19,79.71 1036.96,80.09 1038.73,80.49 1040.49,80.90 1042.26,81.34 1044.02,81.79 1045.78,82.27 1047.53,82.76 1049.28,83.27 1051.03,83.79 1052.78,84.34 1054.52,84.90 1056.26,85.47 1057.99,86.06 1059.72,86.67 1061.45,87.29 1063.17,87.92 1064.89,88.57 1066.61,89.23 1068.32,89.91 1070.03,90.59 1071.74,91.29 1073.44,92.00 1075.13,92.72 1076.82,93.45 1078.51,94.19 1080.20,94.95 1081.87,95.71 1083.55,96.48 1085.22,97.25 1086.88,98.04 1088.55,98.83 1090.20,99.63 1091.85,100.44 1093.50,101.26 1095.14,102.08 1096.78,102.91 1098.41,103.75 1100.04,104.59 1101.66,105.44 1103.28,106.30 1104.90,107.16 1106.51,108.04 1108.11,108.91 1109.72,109.80 1111.31,110.69 1112.90,111.59 1114.49,112.50 1116.08,113.41 1117.66,114.33 1119.23,115.25 1120.80,116.18 1122.37,117.12 1123.93,118.07 1125.49,119.02 1127.04,119.98 1128.59,120.94 1130.13,121.91 1131.68,122.88 1133.21,123.87 1134.74,124.85 1136.27,125.85 1137.80,126.85 1139.32,127.86 1140.83,128.87 1142.35,129.89 1143.85,130.91 1145.36,131.94 1146.86,132.97 1148.35,134.02 1149.84,135.06 1151.33,136.11 1152.82,137.17 1154.30,138.24 1155.77,139.30 1157.25,140.38 1158.71,141.46 1160.18,142.54 1161.64,143.63 1163.10,144.73 1164.55,145.83 1166.00,146.94 1167.45,148.05 1168.89,149.16 1170.33,150.29 1171.76,151.41 1173.19,152.54 1174.62,153.68 1176.04,154.82 1177.46,155.97 1178.88,157.12 1180.29,158.27 1181.70,159.43 1183.11,160.60 1184.51,161.77 1185.91,162.94 1187.31,164.12 1188.70,165.30 1190.09,166.49 1191.47,167.68 1192.85,168.87 1194.23,170.07 1195.61,171.28 1196.98,172.49 1198.35,173.70 1199.71,174.92 1201.08,176.14 1202.43,177.36 1203.79,178.59 1205.14,179.82 1206.49,181.06 1207.84,182.30 1209.18,183.55 1210.52,184.79 1211.86,186.05 1213.19,187.30 1214.52,188.56 1215.85,189.82 1217.17,191.09 1218.49,192.36 1219.81,193.63 1221.12,194.91 1222.44,196.19 1223.74,197.47 1225.05,198.76 1226.35,200.05 1227.65,201.34 1228.95,202.64 1230.25,203.94 1231.54,205.24 1232.83,206.54 1234.11,207.85 1235.40,209.16 1236.68,210.48 1237.96,211.79 1239.23,213.11 1240.50,214.44 1241.77,215.76 1243.04,217.09 1244.30,218.42 1245.57,219.75 1246.82,221.09 1248.08,222.42 1249.34,223.76 1250.59,225.11 1251.84,226.45 1253.08,227.80 1254.33,229.15 1255.57,230.50 1256.81,231.85 1258.04,233.21 1259.28,234.57 1260.51,235.93 1261.74,237.29 1262.96,238.66 1264.19,240.02 1265.41,241.39 1266.63,242.76 1267.85,244.13 1269.06,245.50 1270.28,246.88 1271.49,248.25 1272.70,249.63 1273.90,251.01 1275.11,252.39 1276.31,253.78 1277.51,255.16 1278.71,256.55 1279.90,257.93 1281.10,259.32 1282.29,260.71 1283.48,262.10 1284.66,263.50 1285.85,264.89 1287.03,266.29 1288.21,267.69 1289.39,269.09 1290.57,270.49 1291.74,271.89 1292.91,273.29 1294.08,274.70 1295.25,276.10 1296.42,277.51 1297.58,278.92 1298.74,280.33 1299.90,281.75 1301.06,283.16 1302.21,284.58 1303.36,285.99 1304.52,287.41 1305.66,288.83 1306.81,290.25 1307.96,291.68 1309.10,293.10 1310.24,294.53 1311.38,295.95 1312.51,297.38 1313.65,298.81 1314.78,300.24 1315.91,301.68 1317.04,303.11 1318.16,304.55 1319.29,305.99 1320.41,307.43 1321.53,308.87 1322.64,310.31 1323.76,311.75 1324.87,313.20 1325.98,314.64 1327.09,316.09 1328.20,317.54 1329.31,318.99 1330.41,320.44 1331.51,321.90 1332.61,323.35 1333.71,324.81 1334.80,326.26 1335.90,327.72 1336.99,329.18 1338.08,330.65 1339.16,332.11 1340.25,333.57 1341.33,335.04 1342.41,336.51 1343.49,337.98 1344.57,339.45 1345.64,340.92 1346.72,342.39 1347.79,343.87 1348.86,345.34 1349.92,346.82 1350.99,348.30 1352.05,349.78 1353.11,351.26 1354.17,352.75 1355.23,354.23 1356.29,355.72 1357.34,357.20 1358.39,358.69 1359.44,360.18 1360.49,361.67 1361.53,363.17 1362.58,364.66 1363.62,366.16 1364.66,367.65 1365.70,369.15 1366.73,370.65 1367.77,372.15 1368.80,373.66 1369.83,375.16 1370.86,376.66 1371.88,378.17 1372.91,379.68 1373.93,381.19 1374.95,382.70 1375.97,384.21 1376.99,385.72 1378.00,387.24 1379.01,388.76 1380.03,390.27 1381.04,391.79 1382.04,393.31 1383.05,394.83 1384.05,396.36 1385.05,397.88 1386.05,399.41 1387.05,400.93 1388.05,402.46 1389.04,403.99 1390.03,405.52 1391.02,407.05 1392.01,408.59 1393.00,410.12 1393.99,411.66 1394.97,413.20 1395.95,414.73 1396.93,416.27 1397.91,417.82 1398.88,419.36 1399.86,420.90 1400.83,422.45 1401.80,424.00 1402.77,425.54 1403.73,427.09 1404.70,428.64 1405.66,430.20 1406.62,431.75 1407.58,433.30 1408.54,434.86 1409.50,436.42 1410.45,437.97 1411.40,439.53 1412.35,441.10 1413.30,442.66 1414.25,444.22 1415.19,445.79 1416.14,447.35 1417.08,448.92 1418.02,450.49 1418.96,452.06 1419.89,453.63 1420.83,455.20 1421.76,456.78 1422.69,458.35 1423.62,459.93 1424.55,461.51 1425.47,463.09 1426.40,464.67 1427.32,466.25 1428.24,467.83 1429.16,469.41 1430.08,471.00 1430.99,472.59 1431.91,474.17 1432.82,475.76 1433.73,477.35 1434.64,478.94 1435.54,480.54 1436.45,482.13 1437.35,483.73 1438.25,485.32 1439.15,486.92 1440.05,488.52 1440.95,490.12 1441.84,491.72 1442.74,493.32 1443.63,494.93 1444.52,496.53 1445.41,498.14 1446.29,499.75 1447.18,501.36 1448.06,502.97 1448.94,504.58 1449.82,506.19 1450.70,507.80" stroke="#2b2b2b" stroke-width="2.0" fill="none" stroke-linejoin="round"/>
<path d="M111.60,650.22 113.38,650.22 115.17,650.23 116.96,650.23 118.74,650.24 120.53,650.24 122.31,650.25 124.10,650.26 125.89,650.27 127.67,650.29 129.46,650.30 131.24,650.32 133.03,650.33 134.82,650.35 136.60,650.37 138.39,650.40 140.17,650.42 141.96,650.44 143.74,650.47 145.53,650.50 147.31,650.53 149.10,650.56 150.89,650.59 152.67,650.63 154.46,650.66 156.24,650.70 158.03,650.74 159.81,650.78 161.60,650.82 163.38,650.86 165.17,650.91 166.95,650.96 168.74,651.00 170.52,651.05 172.31,651.11 174.09,651.16 175.88,651.21 177.66,651.27 179.45,651.32 181.23,651.38 183.01,651.44 184.80,651.51 186.58,651.57 188.37,651.63 190.15,651.70 191.93,651.77 193.72,651.84 195.50,651.91 197.29,651.98 199.07,652.05 200.85,652.13 202.64,652.21 204.42,652.29 206.20,652.37 207.99,652.45 209.77,652.53 211.55,652.61 213.34,652.70 215.12,652.79 216.90,652.88 218.69,652.97 220.47,653.06 222.25,653.15 224.03,653.25 225.82,653.35 227.60,653.44 229.38,653.54 231.16,653.65 232.94,653.75 234.73,653.85 236.51,653.96 238.29,654.07 240.07,654.17 241.85,654.29 243.63,654.40 245.42,654.51 247.20,654.63 248.98,654.74 250.76,654.86 252.54,654.98 254.32,655.10 256.10,655.22 257.88,655.35 259.66,655.47 261.44,655.60 263.22,655.73 265.00,655.86 266.78,655.99 268.56,656.12 270.34,656.26 272.12,656.40 273.90,656.53 275.68,656.67 277.46,656.81 279.24,656.96 281.02,657.10 282.80,657.25 284.57,657.39 286.35,657.54 288.13,657.69 289.91,657.84 291.69,657.99 293.46,658.15 295.24,658.31 297.02,658.46 298.80,658.62 300.57,658.78 302.35,658.94 304.13,659.11 305.91,659.27 307.68,659.44 309.46,659.61 311.23,659.78 313.01,659.95 314.79,660.12 316.56,660.30 318.34,660.47 320.11,660.65 321.89,660.83 323.67,661.01 325.44,661.19 327.22,661.37 328.99,661.56 330.76,661.74 332.54,661.93 334.31,662.12 336.09,662.31 337.86,662.51 339.63,662.70 341.41,662.90 343.18,663.09 344.96,663.29 346.73,663.49 348.50,663.69 350.27,663.90 352.05,664.10 353.82,664.31 355.59,664.51 357.36,664.72 359.13,664.93 360.91,665.15 362.68,665.36 364.45,665.57 366.22,665.79 367.99,666.01 369.76,666.23 371.53,666.45 373.30,666.67 375.07,666.90 376.84,667.12 378.61,667.35 380.38,667.58 382.15,667.81 383.92,668.04 385.69,668.27 387.46,668.51 389.22,668.75 390.99,668.98 392.76,669.22 394.53,669.46 396.30,669.71 398.06,669.95 399.83,670.20 401.60,670.44 403.36,670.69 405.13,670.94 406.90,671.19 408.66,671.45 410.43,671.70 412.19,671.96 413.96,672.21 415.73,672.47 417.49,672.73 419.25,672.99 421.02,673.26 422.78,673.52 424.55,673.79 426.31,674.06 428.07,674.33 429.84,674.60 431.60,674.87 433.36,675.15 435.13,675.42 436.89,675.70 438.65,675.98 440.41,676.26 442.17,676.54 443.94,676.82 445.70,677.11 447.46,677.39 449.22,677.68 450.98,677.97 452.74,678.26 454.50,678.55 456.26,678.85 458.02,679.14 459.78,679.44 461.54,679.74 463.29,680.04 465.05,680.34 466.81,680.64 468.57,680.95 470.33,681.25 472.08,681.56 473.84,681.87 475.60,682.18 477.35,682.49 479.11,682.80 480.87,683.12 482.62,683.44 484.38,683.75 486.13,684.07 487.89,684.39 489.64,684.72 491.40,685.04 493.15,685.37 494.90,685.69 496.66,686.02 498.41,686.35 500.16,686.68 501.92,687.02 503.67,687.35 505.42,687.69 507.17,688.02 508.92,688.36 510.68,688.70 512.43,689.05 514.18,689.39 515.93,689.73 517.68,690.08 519.43,690.43 521.18,690.78 522.93,691.13 524.68,691.48 526.42,691.84 528.17,692.19 529.92,692.55 531.67,692.91 533.41,693.27 535.16,693.63 536.91,693.99 538.66,694.36 540.40,694.72 542.15,695.09 543.89,695.46 545.64,695.83 547.38,696.20 549.13,696.58 550.87,696.95 552.62,697.33 554.36,697.71 556.10,698.09 557.84,698.47 559.59,698.85 561.33,699.23 563.07,699.62 564.81,700.01 566.55,700.40 568.30,700.79 570.04,701.18 571.78,701.57 573.52,701.97 575.26,702.36 577.00,702.76 578.73,703.16 580.47,703.56 582.21,703.96 583.95,704.37 585.69,704.77 587.42,705.18 589.16,705.59 590.90,706.00 592.63,706.41 594.37,706.82 596.11,707.23 597.84,707.65 599.58,708.07 601.31,708.49 603.04,708.91 604.78,709.33 606.51,709.75 608.24,710.18 609.98,710.60 611.71,711.03 613.44,711.46 615.17,711.89 616.90,712.32 618.63,712.76 620.37,713.19 622.10,713.63 623.83,714.07 625.55,714.51 627.28,714.95 629.01,715.39 630.74,715.84 632.47,716.28 634.20,716.73 635.92,717.18 637.65,717.63 639.38,718.08 641.10,718.53 642.83,718.99 644.55,719.44 646.28,719.90 648.00,720.36 649.73,720.82 651.45,721.28 653.17,721.75 654.90,722.21 656.62,722.68 658.34,723.15 660.06,723.62 661.78,724.09 663.51,724.56 665.23,725.04 666.95,725.51 668.67,725.99 670.39,726.47 672.10,726.95 673.82,727.43 675.54,727.91 677.26,728.40 678.98,728.89 680.69,729.37 682.41,729.86 684.13,730.35 685.84,730.85 687.56,731.34 689.27,731.83 690.99,732.33 692.70,732.83 694.41,733.33 696.13,733.83 697.84,734.33 699.55,734.84 701.26,735.34 702.98,735.85 704.69,736.36 706.40,736.87 708.11,737.38 709.82,737.89 711.53,738.41 713.24,738.93 714.94,739.44 716.65,739.96 718.36,740.48 720.07,741.01 721.77,741.53 723.48,742.05 725.19,742.58 726.89,743.11 728.60,743.64 730.30,744.17 732.01,744.70 733.71,745.24 735.41,745.77 737.12,746.31 738.82,746.85 740.52,747.39 742.22,747.93 743.92,748.47 745.62,749.02 747.32,749.56 749.02,750.11 750.72,750.66 752.42,751.21 754.12,751.76 755.82,752.32 757.51,752.87 759.21,753.43 760.91,753.99 762.60,754.55 764.30,755.11 765.99,755.67 767.69,756.23 769.38,756.80 771.08,757.37 772.77,757.94 774.46,758.51 776.15,759.08 777.85,759.65 779.54,760.22 781.23,760.80 782.92,761.38 784.61,761.96 786.30,762.54 787.99,763.12 789.67,763.70 791.36,764.29 793.05,764.87 794.74,765.46 796.42,766.05 798.11,766.64 799.79,767.24 801.48,767.83 803.16,768.42 804.85,769.02 806.53,769.62 808.21,770.22 809.90,770.82" stroke="#55a872" stroke-width="2.2" fill="none" stroke-dasharray="8.8 9.6 2.2 9.6"/>
<path d="M111.59,650.24 113.41,650.23 115.24,650.23 117.07,650.22 118.89,650.22 120.72,650.22 122.54,650.22 124.37,650.23 126.19,650.23 128.02,650.24 129.84,650.26 131.67,650.27 133.49,650.29 135.32,650.31 137.14,650.33 138.97,650.36 140.79,650.39 142.61,650.42 144.44,650.45 146.26,650.49 148.08,650.52 149.91,650.56 151.73,650.61 153.55,650.65 155.38,650.70 157.20,650.75 159.02,650.80 160.84,650.86 162.66,650.92 164.48,650.98 166.30,651.04 168.13,651.11 169.95,651.18 171.77,651.25 173.59,651.32 175.41,651.40 177.23,651.47 179.05,651.55 180.87,651.64 182.68,651.72 184.50,651.81 186.32,651.90 188.14,651.99 189.96,652.09 191.78,652.19 193.59,652.29 195.41,652.39 197.23,652.50 199.05,652.60 200.86,652.71 202.68,652.83 204.50,652.94 206.31,653.06 208.13,653.18 209.94,653.30 211.76,653.43 213.57,653.55 215.39,653.68 217.20,653.81 219.02,653.95 220.83,654.09 222.64,654.22 224.46,654.37 226.27,654.51 228.08,654.66 229.90,654.81 231.71,654.96 233.52,655.11 235.33,655.27 237.14,655.43 238.96,655.59 240.77,655.75 242.58,655.92 244.39,656.08 246.20,656.25 248.01,656.43 249.82,656.60 251.63,656.78 253.44,656.96 255.24,657.14 257.05,657.33 258.86,657.51 260.67,657.70 262.48,657.89 264.28,658.09 266.09,658.29 267.90,658.48 269.70,658.68 271.51,658.89 273.32,659.09 275.12,659.30 276.93,659.51 278.73,659.73 280.54,659.94 282.34,660.16 284.14,660.38 285.95,660.60 287.75,660.82 289.55,661.05 291.36,661.28 293.16,661.51 294.96,661.75 296.76,661.98 298.56,662.22 300.36,662.46 302.16,662.70 303.96,662.95 305.76,663.20 307.56,663.45 309.36,663.70 311.16,663.95 312.96,664.21 314.76,664.47 316.56,664.73 318.35,664.99 320.15,665.26 321.95,665.53 323.74,665.80 325.54,666.07 327.33,666.34 329.13,666.62 330.92,666.90 332.72,667.18 334.51,667.47 336.31,667.75 338.10,668.04 339.89,668.33 341.69,668.62 343.48,668.92 345.27,669.22 347.06,669.52 348.85,669.82 350.64,670.12 352.44,670.43 354.23,670.74 356.02,671.05 357.80,671.36 359.59,671.68 361.38,671.99 363.17,672.31 364.96,672.63 366.75,672.96 368.53,673.28 370.32,673.61 372.10,673.94 373.89,674.28 375.68,674.61 377.46,674.95 379.25,675.29 381.03,675.63 382.81,675.97 384.60,676.32 386.38,676.67 388.16,677.02 389.94,677.37 391.73,677.72 393.51,678.08 395.29,678.44 397.07,678.80 398.85,679.16 400.63,679.53 402.41,679.90 404.19,680.27 405.96,680.64 407.74,681.01 409.52,681.39 411.30,681.77 413.07,682.15 414.85,682.53 416.62,682.91 418.40,683.30 420.17,683.69 421.95,684.08 423.72,684.47 425.50,684.87 427.27,685.26 429.04,685.66 430.81,686.07 432.58,686.47 434.36,686.88 436.13,687.28 437.90,687.69 439.67,688.11 441.44,688.52 443.20,688.94 444.97,689.35 446.74,689.77 448.51,690.20 450.27,690.62 452.04,691.05 453.81,691.48 455.57,691.91 457.34,692.34 459.10,692.78 460.87,693.21 462.63,693.65 464.39,694.09 466.16,694.54 467.92,694.98 469.68,695.43 471.44,695.88 473.20,696.33 474.96,696.78 476.72,697.24 478.48,697.69 480.24,698.15 482.00,698.62 483.75,699.08 485.51,699.55 487.27,700.01 489.02,700.48 490.78,700.95 492.53,701.43 494.29,701.90 496.04,702.38 497.80,702.86 499.55,703.34 501.30,703.83 503.05,704.31 504.81,704.80 506.56,705.29 508.31,705.78 510.06,706.27 511.81,706.77 513.55,707.27 515.30,707.77 517.05,708.27 518.80,708.77 520.54,709.28 522.29,709.79 524.04,710.30 525.78,710.81 527.53,711.32 529.27,711.84 531.01,712.35 532.76,712.87 534.50,713.39 536.24,713.92 537.98,714.44 539.72,714.97 541.46,715.50 543.20,716.03 544.94,716.56 546.68,717.10 548.42,717.63 550.15,718.17 551.89,718.71 553.63,719.26 555.36,719.80 557.10,720.35 558.83,720.90 560.56,721.45 562.30,722.00 564.03,722.55 565.76,723.11 567.49,723.67 569.22,724.23 570.95,724.79 572.68,725.35 574.41,725.92 576.14,726.48 577.87,727.05 579.60,727.63 581.32,728.20 583.05,728.77 584.78,729.35 586.50,729.93 588.23,730.51 589.95,731.09 591.67,731.68 593.39,732.26 595.12,732.85 596.84,733.44 598.56,734.03 600.28,734.63 602.00,735.22 603.72,735.82 605.43,736.42 607.15,737.02 608.87,737.62 610.59,738.23 612.30,738.83 614.02,739.44 615.73,740.05 617.44,740.66 619.16,741.28 620.87,741.89 622.58,742.51 624.29,743.13 626.00,743.75 627.71,744.37 629.42,745.00 631.13,745.62 632.84,746.25 634.55,746.88 636.25,747.51 637.96,748.15 639.67,748.78 641.37,749.42 643.07,750.06 644.78,750.70 646.48,751.34 648.18,751.99 649.88,752.63 651.59,753.28 653.29,753.93 654.98,754.58 656.68,755.24 658.38,755.89 660.08,756.55 661.78,757.21 663.47,757.87 665.17,758.53 666.86,759.19 668.56,759.86 670.25,760.52 671.94,761.19 673.63,761.86 675.33,762.54 677.02,763.21 678.71,763.89 680.40,764.57 682.08,765.24 683.77,765.93 685.46,766.61 687.15,767.29 688.83,767.98 690.52,768.67 692.20,769.36 693.88,770.05 695.57,770.74 697.25,771.44 698.93,772.13 700.61,772.83 702.29,773.53 703.97,774.23 705.65,774.94 707.33,775.64 709.01,776.35 710.68,777.06 712.36,777.77 714.03,778.48 715.71,779.19 717.38,779.91 719.05,780.62 720.73,781.34 722.40,782.06 724.07,782.78 725.74,783.51 727.41,784.23 729.07,784.96 730.74,785.69 732.41,786.42 734.08,787.15 735.74,787.88 737.41,788.62 739.07,789.35 740.73,790.09 742.40,790.83 744.06,791.57 745.72,792.32 747.38,793.06 749.04,793.81 750.70,794.56 752.35,795.30 754.01,796.06 755.67,796.81 757.32,797.56 758.98,798.32 760.63,799.08 762.28,799.84 763.94,800.60 765.59,801.36 767.24,802.12 768.89,802.89 770.54,803.66 772.19,804.42 773.84,805.19 775.48,805.97 777.13,806.74 778.77,807.52 780.42,808.29 782.06,809.07 783.71,809.85 785.35,810.63 786.99,811.41 788.63,812.20 790.27,812.98 791.91,813.77 793.55,814.56 795.18,815.35 796.82,816.14 798.46,816.94 800.09,817.73 801.73,818.53 803.36,819.33 804.99,820.13 806.62,820.93 808.25,821.73 809.88,822.54" stroke="#ab9d58" stroke-width="2.2" fill="none" stroke-dasharray="8.4 8.8"/>
<path d="M111.55,650.27 113.50,650.24 115.44,650.22 117.39,650.20 119.33,650.19 121.27,650.18 123.21,650.17 125.16,650.18 127.10,650.18 129.04,650.19 130.97,650.21 132.91,650.22 134.85,650.25 136.79,650.28 138.72,650.31 140.66,650.35 142.59,650.39 144.53,650.44 146.46,650.49 148.39,650.55 150.33,650.61 152.26,650.67 154.19,650.74 156.12,650.82 158.05,650.89 159.98,650.98 161.90,651.07 163.83,651.16 165.76,651.25 167.68,651.36 169.61,651.46 171.53,651.57 173.46,651.69 175.38,651.80 177.30,651.93 179.22,652.06 181.14,652.19 183.06,652.33 184.98,652.47 186.90,652.61 188.82,652.76 190.73,652.92 192.65,653.08 194.56,653.24 196.48,653.41 198.39,653.58 200.30,653.75 202.22,653.93 204.13,654.12 206.04,654.31 207.95,654.50 209.86,654.70 211.76,654.90 213.67,655.11 215.58,655.32 217.48,655.53 219.39,655.75 221.29,655.97 223.20,656.20 225.10,656.43 227.00,656.67 228.90,656.91 230.80,657.15 232.70,657.40 234.60,657.65 236.50,657.91 238.39,658.17 240.29,658.44 242.19,658.71 244.08,658.98 245.97,659.26 247.87,659.54 249.76,659.82 251.65,660.11 253.54,660.41 255.43,660.71 257.32,661.01 259.21,661.32 261.09,661.63 262.98,661.94 264.86,662.26 266.75,662.58 268.63,662.91 270.52,663.24 272.40,663.57 274.28,663.91 276.16,664.25 278.04,664.60 279.92,664.95 281.79,665.30 283.67,665.66 285.55,666.03 287.42,666.39 289.29,666.76 291.17,667.14 293.04,667.51 294.91,667.90 296.78,668.28 298.65,668.67 300.52,669.07 302.39,669.46 304.25,669.87 306.12,670.27 307.98,670.68 309.85,671.09 311.71,671.51 313.57,671.93 315.44,672.36 317.30,672.78 319.16,673.22 321.01,673.65 322.87,674.09 324.73,674.53 326.58,674.98 328.44,675.43 330.29,675.89 332.15,676.35 334.00,676.81 335.85,677.27 337.70,677.74 339.55,678.22 341.40,678.70 343.24,679.18 345.09,679.66 346.94,680.15 348.78,680.64 350.62,681.14 352.47,681.64 354.31,682.14 356.15,682.64 357.99,683.15 359.83,683.67 361.67,684.19 363.50,684.71 365.34,685.23 367.17,685.76 369.01,686.29 370.84,686.83 372.67,687.37 374.50,687.91 376.33,688.45 378.16,689.00 379.99,689.56 381.82,690.11 383.64,690.67 385.47,691.24 387.29,691.80 389.11,692.37 390.93,692.95 392.76,693.52 394.58,694.11 396.39,694.69 398.21,695.28 400.03,695.87 401.84,696.46 403.66,697.06 405.47,697.66 407.28,698.27 409.10,698.88 410.91,699.49 412.72,700.10 414.52,700.72 416.33,701.34 418.14,701.97 419.94,702.60 421.75,703.23 423.55,703.86 425.35,704.50 427.15,705.14 428.95,705.79 430.75,706.44 432.55,707.09 434.35,707.74 436.14,708.40 437.94,709.06 439.73,709.73 441.52,710.40 443.32,711.07 445.11,711.74 446.90,712.42 448.68,713.10 450.47,713.78 452.26,714.47 454.04,715.16 455.83,715.85 457.61,716.55 459.39,717.25 461.17,717.95 462.95,718.66 464.73,719.37 466.51,720.08 468.28,720.80 470.06,721.52 471.83,722.24 473.60,722.96 475.37,723.69 477.14,724.42 478.91,725.16 480.68,725.89 482.45,726.63 484.22,727.38 485.98,728.12 487.74,728.87 489.51,729.62 491.27,730.38 493.03,731.14 494.79,731.90 496.54,732.66 498.30,733.43 500.06,734.20 501.81,734.97 503.56,735.75 505.32,736.53 507.07,737.31 508.82,738.09 510.57,738.88 512.31,739.67 514.06,740.47 515.80,741.26 517.55,742.06 519.29,742.86 521.03,743.67 522.77,744.48 524.51,745.29 526.25,746.10 527.99,746.92 529.72,747.74 531.46,748.56 533.19,749.38 534.92,750.21 536.65,751.04 538.38,751.87 540.11,752.71 541.84,753.55 543.56,754.39 545.29,755.23 547.01,756.08 548.73,756.93 550.46,757.78 552.17,758.64 553.89,759.50 555.61,760.36 557.33,761.22 559.04,762.09 560.76,762.95 562.47,763.83 564.18,764.70 565.89,765.58 567.60,766.46 569.30,767.34 571.01,768.22 572.72,769.11 574.42,770.00 576.12,770.89 577.82,771.78 579.52,772.68 581.22,773.58 582.92,774.48 584.61,775.39 586.31,776.30 588.00,777.21 589.69,778.12 591.39,779.03 593.07,779.95 594.76,780.87 596.45,781.79 598.14,782.72 599.82,783.65 601.50,784.58 603.19,785.51 604.87,786.45 606.54,787.38 608.22,788.32 609.90,789.26 611.57,790.21 613.25,791.16 614.92,792.11 616.59,793.06 618.26,794.01 619.93,794.97 621.60,795.93 623.26,796.89 624.93,797.85 626.59,798.82 628.25,799.79 629.92,800.76 631.57,801.73 633.23,802.71 634.89,803.68 636.54,804.66 638.20,805.65 639.85,806.63 641.50,807.62 643.15,808.61 644.80,809.60 646.45,810.59 648.09,811.59 649.74,812.58 651.38,813.58 653.02,814.59 654.66,815.59 656.30,816.60 657.94,817.61 659.58,818.62 661.21,819.63 662.85,820.65 664.48,821.66 666.11,822.68 667.74,823.71 669.37,824.73 670.99,825.76 672.62,826.78 674.24,827.81 675.86,828.85 677.48,829.88 679.10,830.92 680.72,831.96 682.34,833.00 683.95,834.04 685.57,835.08 687.18,836.13 688.79,837.18 690.40,838.23 692.01,839.28 693.61,840.34 695.22,841.39 696.82,842.45 698.43,843.51 700.03,844.58 701.63,845.64 703.22,846.71 704.82,847.78 706.42,848.85 708.01,849.92 709.60,850.99 711.19,852.07 712.78,853.15 714.37,854.23 715.96,855.31 717.54,856.39 719.13,857.48 720.71,858.57 722.29,859.66 723.87,860.75 725.44,861.84 727.02,862.93 728.60,864.03 730.17,865.13 731.74,866.23 733.31,867.33 734.88,868.43 736.45,869.54 738.01,870.65 739.58,871.76 741.14,872.87 742.70,873.98 744.26,875.09 745.82,876.21 747.37,877.33 748.93,878.45 750.48,879.57 752.04,880.69 753.59,881.81 755.13,882.94 756.68,884.07 758.23,885.20 759.77,886.33 761.32,887.46 762.86,888.60 764.40,889.73 765.94,890.87 767.47,892.01 769.01,893.15 770.54,894.29 772.07,895.44 773.60,896.58 775.13,897.73 776.66,898.88 778.19,900.03 779.71,901.18 781.23,902.33 782.76,903.49 784.27,904.64 785.79,905.80 787.31,906.96 788.82,908.12 790.34,909.28 791.85,910.44 793.36,911.61 794.87,912.78 796.38,913.94 797.88,915.11 799.38,916.28 800.89,917.46 802.39,918.63 803.89,919.80 805.38,920.98 806.88,922.16 808.37,923.34 809.87,924.52" stroke="#c07cab" stroke-width="2.5" fill="none" stroke-dasharray="2.4 9.1"/>
<path d="M111.58,650.21 113.41,650.19 115.24,650.19 117.06,650.18 118.89,650.19 120.72,650.21 122.54,650.23 124.36,650.27 126.19,650.31 128.01,650.36 129.83,650.42 131.66,650.49 133.48,650.57 135.30,650.65 137.12,650.74 138.94,650.85 140.76,650.96 142.57,651.07 144.39,651.20 146.21,651.34 148.02,651.48 149.84,651.63 151.65,651.79 153.46,651.96 155.27,652.14 157.08,652.32 158.89,652.52 160.70,652.72 162.50,652.93 164.31,653.15 166.11,653.38 167.92,653.61 169.72,653.85 171.52,654.10 173.32,654.36 175.11,654.63 176.91,654.91 178.70,655.19 180.50,655.48 182.29,655.78 184.08,656.09 185.87,656.40 187.65,656.73 189.44,657.06 191.22,657.40 193.01,657.75 194.79,658.10 196.56,658.46 198.34,658.84 200.12,659.21 201.89,659.60 203.66,660.00 205.43,660.40 207.20,660.81 208.96,661.23 210.72,661.65 212.48,662.09 214.24,662.53 216.00,662.98 217.76,663.44 219.51,663.90 221.26,664.37 223.01,664.85 224.75,665.34 226.50,665.84 228.24,666.34 229.98,666.85 231.71,667.37 233.45,667.89 235.18,668.43 236.91,668.97 238.64,669.52 240.36,670.07 242.08,670.64 243.80,671.21 245.52,671.78 247.23,672.37 248.94,672.96 250.65,673.56 252.36,674.17 254.06,674.79 255.76,675.41 257.46,676.04 259.15,676.68 260.84,677.32 262.53,677.97 264.22,678.63 265.90,679.30 267.58,679.97 269.25,680.65 270.93,681.34 272.60,682.04 274.26,682.74 275.93,683.45 277.59,684.17 279.25,684.89 280.90,685.62 282.55,686.36 284.20,687.10 285.84,687.86 287.48,688.62 289.12,689.38 290.75,690.15 292.38,690.93 294.01,691.72 295.63,692.52 297.25,693.32 298.87,694.13 300.48,694.94 302.09,695.76 303.69,696.59 305.29,697.43 306.89,698.27 308.48,699.12 310.07,699.97 311.66,700.83 313.24,701.70 314.82,702.58 316.40,703.46 317.97,704.35 319.54,705.24 321.11,706.14 322.67,707.05 324.23,707.96 325.78,708.88 327.33,709.80 328.88,710.73 330.43,711.67 331.97,712.61 333.51,713.56 335.04,714.52 336.57,715.48 338.10,716.44 339.62,717.41 341.15,718.39 342.66,719.37 344.18,720.36 345.69,721.35 347.20,722.35 348.70,723.35 350.21,724.36 351.70,725.37 353.20,726.39 354.69,727.42 356.18,728.45 357.67,729.48 359.15,730.52 360.63,731.56 362.11,732.61 363.58,733.67 365.05,734.72 366.52,735.79 367.98,736.85 369.45,737.92 370.91,739.00 372.36,740.08 373.81,741.17 375.26,742.26 376.71,743.35 378.16,744.45 379.60,745.55 381.04,746.66 382.47,747.77 383.90,748.88 385.33,750.00 386.76,751.12 388.19,752.25 389.61,753.38 391.03,754.51 392.44,755.65 393.85,756.79 395.27,757.93 396.67,759.08 398.08,760.23 399.48,761.38 400.88,762.54 402.28,763.70 403.67,764.87 405.06,766.04 406.45,767.21 407.84,768.38 409.23,769.56 410.61,770.74 411.99,771.92 413.36,773.11 414.74,774.30 416.11,775.49 417.48,776.68 418.85,777.88 420.21,779.08 421.57,780.28 422.93,781.48 424.29,782.69 425.64,783.90 427.00,785.11 428.35,786.33 429.69,787.54 431.04,788.76 432.38,789.98 433.72,791.21 435.06,792.43 436.40,793.66 437.73,794.89 439.06,796.13 440.39,797.36 441.72,798.60 443.04,799.84 444.37,801.08 445.69,802.33 447.00,803.57 448.32,804.82 449.63,806.07 450.94,807.33 452.25,808.58 453.56,809.84 454.86,811.10 456.16,812.36 457.46,813.63 458.76,814.90 460.06,816.17 461.35,817.44 462.64,818.71 463.93,819.99 465.21,821.26 466.50,822.54 467.78,823.83 469.06,825.11 470.34,826.40 471.61,827.68 472.88,828.97 474.16,830.27 475.42,831.56 476.69,832.86 477.96,834.16 479.22,835.46 480.48,836.76 481.74,838.07 482.99,839.37 484.25,840.68 485.50,841.99 486.75,843.31 488.00,844.62 489.24,845.94 490.48,847.26 491.73,848.58 492.96,849.90 494.20,851.22 495.44,852.55 496.67,853.88 497.90,855.21 499.13,856.54 500.36,857.88 501.58,859.21 502.80,860.55 504.02,861.89 505.24,863.23 506.46,864.58 507.67,865.92 508.89,867.27 510.10,868.62 511.31,869.97 512.51,871.32 513.72,872.68 514.92,874.03 516.12,875.39 517.32,876.75 518.51,878.11 519.71,879.47 520.90,880.84 522.09,882.21 523.28,883.57 524.47,884.95 525.65,886.32 526.84,887.69 528.02,889.07 529.20,890.44 530.37,891.82 531.55,893.20 532.72,894.58 533.90,895.97 535.07,897.35 536.23,898.74 537.40,900.13 538.56,901.52 539.73,902.91 540.89,904.30 542.04,905.70 543.20,907.10 544.36,908.49 545.51,909.89 546.66,911.29 547.81,912.70 548.96,914.10 550.10,915.51 551.25,916.91 552.39,918.32 553.53,919.73 554.67,921.15 555.80,922.56 556.94,923.97 558.07,925.39 559.20,926.81 560.33,928.23 561.46,929.65 562.59,931.07 563.71,932.49 564.83,933.92 565.95,935.34 567.07,936.77 568.19,938.20 569.31,939.63 570.42,941.06 571.53,942.49 572.64,943.93 573.75,945.36 574.86,946.80 575.97,948.24 577.07,949.68 578.17,951.12 579.27,952.56 580.37,954.00 581.47,955.45 582.56,956.89 583.66,958.34 584.75,959.79 585.84,961.24 586.93,962.69 588.02,964.14 589.10,965.60 590.19,967.05 591.27,968.51 592.35,969.96 593.43,971.42 594.51,972.88 595.58,974.34 596.66,975.80 597.73,977.26 598.80,978.73 599.87,980.19 600.94,981.66 602.01,983.13 603.07,984.59 604.13,986.06 605.20,987.53 606.26,989.01 607.32,990.48 608.37,991.95 609.43,993.43 610.48,994.90 611.54,996.38 612.59,997.86 613.64,999.33 614.69,1000.81 615.73,1002.29 616.78,1003.77 617.82,1005.26 618.87,1006.74 619.91,1008.23 620.95,1009.71 621.98,1011.20 623.02,1012.68 624.06,1014.17 625.09,1015.66 626.12,1017.15 627.15,1018.64 628.18,1020.13 629.21,1021.62 630.24,1023.12 631.26,1024.61 632.29,1026.11 633.31,1027.60 634.33,1029.10 635.35,1030.60 636.37,1032.10 637.39,1033.59 638.40,1035.09 639.42,1036.59 640.43,1038.10 641.44,1039.60 642.45,1041.10 643.46,1042.60 644.47,1044.11 645.48,1045.61 646.48,1047.12 647.49,1048.63 648.49,1050.13 649.49,1051.64 650.49,1053.15 651.49,1054.66 652.49,1056.17 653.48,1057.68 654.48,1059.19 655.47,1060.70 656.46,1062.21 657.45,1063.73 658.44,1065.24 659.43,1066.75 660.42,1068.27 661.41,1069.78 662.39,1071.30" stroke="#2b2b2b" stroke-width="2.0" fill="none" stroke-linejoin="round"/>
<path d="M913.99,640.02 915.82,639.99 917.65,639.96 919.48,639.94 921.31,639.92 923.14,639.90 924.97,639.88 926.79,639.86 928.62,639.85 930.45,639.84 932.28,639.83 934.11,639.82 935.93,639.81 937.76,639.81 939.59,639.81 941.42,639.81 943.24,639.81 945.07,639.81 946.90,639.82 948.72,639.83 950.55,639.84 952.38,639.85 954.20,639.86 956.03,639.88 957.86,639.90 959.68,639.92 961.51,639.94 963.33,639.97 965.16,639.99 966.98,640.02 968.81,640.05 970.63,640.09 972.46,640.12 974.28,640.16 976.11,640.20 977.93,640.24 979.76,640.28 981.58,640.32 983.41,640.37 985.23,640.42 987.06,640.47 988.88,640.52 990.70,640.58 992.53,640.63 994.35,640.69 996.17,640.75 998.00,640.82 999.82,640.88 1001.64,640.95 1003.46,641.01 1005.29,641.09 1007.11,641.16 1008.93,641.23 1010.75,641.31 1012.58,641.39 1014.40,641.47 1016.22,641.55 1018.04,641.63 1019.86,641.72 1021.68,641.80 1023.50,641.89 1025.33,641.99 1027.15,642.08 1028.97,642.17 1030.79,642.27 1032.61,642.37 1034.43,642.47 1036.25,642.57 1038.07,642.68 1039.89,642.79 1041.71,642.89 1043.53,643.01 1045.35,643.12 1047.16,643.23 1048.98,643.35 1050.80,643.47 1052.62,643.59 1054.44,643.71 1056.26,643.83 1058.08,643.96 1059.89,644.08 1061.71,644.21 1063.53,644.34 1065.35,644.48 1067.16,644.61 1068.98,644.75 1070.80,644.89 1072.61,645.03 1074.43,645.17 1076.25,645.31 1078.06,645.46 1079.88,645.61 1081.69,645.76 1083.51,645.91 1085.33,646.06 1087.14,646.21 1088.96,646.37 1090.77,646.53 1092.59,646.69 1094.40,646.85 1096.22,647.02 1098.03,647.18 1099.84,647.35 1101.66,647.52 1103.47,647.69 1105.28,647.86 1107.10,648.04 1108.91,648.21 1110.72,648.39 1112.54,648.57 1114.35,648.75 1116.16,648.94 1117.97,649.12 1119.79,649.31 1121.60,649.50 1123.41,649.69 1125.22,649.88 1127.03,650.07 1128.84,650.27 1130.66,650.47 1132.47,650.66 1134.28,650.87 1136.09,651.07 1137.90,651.27 1139.71,651.48 1141.52,651.69 1143.33,651.90 1145.14,652.11 1146.94,652.32 1148.75,652.53 1150.56,652.75 1152.37,652.97 1154.18,653.19 1155.99,653.41 1157.80,653.63 1159.60,653.86 1161.41,654.08 1163.22,654.31 1165.03,654.54 1166.83,654.77 1168.64,655.01 1170.45,655.24 1172.25,655.48 1174.06,655.72 1175.86,655.96 1177.67,656.20 1179.48,656.44 1181.28,656.68 1183.09,656.93 1184.89,657.18 1186.70,657.43 1188.50,657.68 1190.30,657.93 1192.11,658.19 1193.91,658.44 1195.72,658.70 1197.52,658.96 1199.32,659.22 1201.13,659.49 1202.93,659.75 1204.73,660.02 1206.53,660.28 1208.34,660.55 1210.14,660.82 1211.94,661.10 1213.74,661.37 1215.54,661.65 1217.34,661.92 1219.14,662.20 1220.94,662.48 1222.75,662.76 1224.55,663.05 1226.35,663.33 1228.14,663.62 1229.94,663.91 1231.74,664.20 1233.54,664.49 1235.34,664.78 1237.14,665.08 1238.94,665.37 1240.74,665.67 1242.53,665.97 1244.33,666.27 1246.13,666.57 1247.93,666.88 1249.72,667.18 1251.52,667.49 1253.32,667.80 1255.11,668.11 1256.91,668.42 1258.70,668.73 1260.50,669.05 1262.29,669.36 1264.09,669.68 1265.88,670.00 1267.68,670.32 1269.47,670.64 1271.27,670.96 1273.06,671.29 1274.85,671.62 1276.65,671.94 1278.44,672.27 1280.23,672.60 1282.03,672.94 1283.82,673.27 1285.61,673.61 1287.40,673.94 1289.19,674.28 1290.99,674.62 1292.78,674.96 1294.57,675.31 1296.36,675.65 1298.15,676.00 1299.94,676.34 1301.73,676.69 1303.52,677.04 1305.31,677.39 1307.10,677.75 1308.89,678.10 1310.67,678.46 1312.46,678.81 1314.25,679.17 1316.04,679.53 1317.83,679.89 1319.61,680.26 1321.40,680.62 1323.19,680.99 1324.97,681.35 1326.76,681.72 1328.55,682.09 1330.33,682.46 1332.12,682.84 1333.90,683.21 1335.69,683.59 1337.47,683.96 1339.26,684.34 1341.04,684.72 1342.82,685.10 1344.61,685.48 1346.39,685.87 1348.17,686.25 1349.96,686.64 1351.74,687.03 1353.52,687.42 1355.30,687.81 1357.08,688.20 1358.87,688.59 1360.65,688.99 1362.43,689.38 1364.21,689.78 1365.99,690.18 1367.77,690.58 1369.55,690.98 1371.33,691.38 1373.11,691.79 1374.89,692.19 1376.66,692.60 1378.44,693.01 1380.22,693.42 1382.00,693.83 1383.78,694.24 1385.55,694.65 1387.33,695.07 1389.11,695.48 1390.88,695.90 1392.66,696.32 1394.44,696.74 1396.21,697.16 1397.99,697.58 1399.76,698.00 1401.54,698.43 1403.31,698.85 1405.08,699.28 1406.86,699.71 1408.63,700.14 1410.40,700.57 1412.18,701.00 1413.95,701.44 1415.72,701.87 1417.49,702.31 1419.27,702.75 1421.04,703.18 1422.81,703.62 1424.58,704.07 1426.35,704.51 1428.12,704.95 1429.89,705.40 1431.66,705.84 1433.43,706.29 1435.20,706.74 1436.97,707.19 1438.73,707.64 1440.50,708.09 1442.27,708.54 1444.04,709.00 1445.81,709.45 1447.57,709.91 1449.34,710.37 1451.11,710.83 1452.87,711.29 1454.64,711.75 1456.40,712.21 1458.17,712.68 1459.93,713.14 1461.70,713.61 1463.46,714.08 1465.22,714.55 1466.99,715.02 1468.75,715.49 1470.51,715.96 1472.28,716.43 1474.04,716.91 1475.80,717.38 1477.56,717.86 1479.32,718.34 1481.08,718.82 1482.84,719.30 1484.60,719.78 1486.36,720.26 1488.12,720.74 1489.88,721.23 1491.64,721.71 1493.40,722.20 1495.16,722.69 1496.92,723.18 1498.68,723.67 1500.43,724.16 1502.19,724.65 1503.95,725.15 1505.70,725.64 1507.46,726.14 1509.21,726.63 1510.97,727.13 1512.72,727.63 1514.48,728.13 1516.23,728.63 1517.99,729.13 1519.74,729.64 1521.50,730.14 1523.25,730.65 1525.00,731.15 1526.75,731.66 1528.51,732.17 1530.26,732.68 1532.01,733.19 1533.76,733.70 1535.51,734.22 1537.26,734.73 1539.01,735.25 1540.76,735.76 1542.51,736.28 1544.26,736.80 1546.01,737.32 1547.76,737.84 1549.50,738.36 1551.25,738.88 1553.00,739.40 1554.75,739.93 1556.49,740.45 1558.24,740.98 1559.98,741.51 1561.73,742.03 1563.47,742.56 1565.22,743.09 1566.96,743.62 1568.71,744.16 1570.45,744.69 1572.20,745.22 1573.94,745.76 1575.68,746.29 1577.42,746.83 1579.17,747.37 1580.91,747.91 1582.65,748.45 1584.39,748.99 1586.13,749.53 1587.87,750.07 1589.61,750.62 1591.35,751.16 1593.09,751.71 1594.83,752.26 1596.57,752.80 1598.30,753.35 1600.04,753.90 1601.78,754.45 1603.52,755.00 1605.25,755.55 1606.99,756.11 1608.72,756.66 1610.46,757.22 1612.19,757.77 1613.93,758.33 1615.66,758.89 1617.40,759.45 1619.13,760.00 1620.86,760.57 1622.60,761.13 1624.33,761.69 1626.06,762.25 1627.79,762.82" stroke="#55a872" stroke-width="2.2" fill="none" stroke-dasharray="8.8 9.6 2.2 9.6"/>
<path d="M914.00,640.01 915.86,640.00 917.72,640.00 919.58,640.00 921.44,640.00 923.31,640.00 925.17,640.01 927.03,640.02 928.89,640.03 930.75,640.04 932.61,640.06 934.47,640.08 936.34,640.10 938.20,640.13 940.06,640.15 941.92,640.18 943.78,640.21 945.64,640.25 947.50,640.28 949.36,640.32 951.22,640.36 953.08,640.41 954.94,640.45 956.80,640.50 958.66,640.56 960.52,640.61 962.37,640.67 964.23,640.72 966.09,640.79 967.95,640.85 969.81,640.92 971.67,640.98 973.52,641.06 975.38,641.13 977.24,641.21 979.10,641.28 980.95,641.37 982.81,641.45 984.67,641.53 986.52,641.62 988.38,641.71 990.24,641.81 992.09,641.90 993.95,642.00 995.81,642.10 997.66,642.20 999.52,642.31 1001.37,642.42 1003.23,642.53 1005.08,642.64 1006.94,642.76 1008.79,642.87 1010.64,642.99 1012.50,643.12 1014.35,643.24 1016.21,643.37 1018.06,643.50 1019.91,643.63 1021.76,643.76 1023.62,643.90 1025.47,644.04 1027.32,644.18 1029.17,644.33 1031.02,644.47 1032.88,644.62 1034.73,644.77 1036.58,644.93 1038.43,645.08 1040.28,645.24 1042.13,645.40 1043.98,645.56 1045.83,645.73 1047.68,645.90 1049.53,646.07 1051.38,646.24 1053.23,646.41 1055.07,646.59 1056.92,646.77 1058.77,646.95 1060.62,647.14 1062.47,647.32 1064.31,647.51 1066.16,647.70 1068.01,647.90 1069.85,648.09 1071.70,648.29 1073.55,648.49 1075.39,648.70 1077.24,648.90 1079.08,649.11 1080.93,649.32 1082.77,649.53 1084.61,649.75 1086.46,649.96 1088.30,650.18 1090.15,650.40 1091.99,650.63 1093.83,650.85 1095.67,651.08 1097.52,651.31 1099.36,651.55 1101.20,651.78 1103.04,652.02 1104.88,652.26 1106.72,652.50 1108.56,652.75 1110.40,652.99 1112.24,653.24 1114.08,653.50 1115.92,653.75 1117.76,654.00 1119.60,654.26 1121.43,654.52 1123.27,654.79 1125.11,655.05 1126.95,655.32 1128.78,655.59 1130.62,655.86 1132.46,656.14 1134.29,656.41 1136.13,656.69 1137.96,656.97 1139.80,657.26 1141.63,657.54 1143.46,657.83 1145.30,658.12 1147.13,658.41 1148.96,658.71 1150.80,659.00 1152.63,659.30 1154.46,659.60 1156.29,659.91 1158.12,660.21 1159.95,660.52 1161.78,660.83 1163.61,661.14 1165.44,661.46 1167.27,661.77 1169.10,662.09 1170.93,662.41 1172.76,662.74 1174.59,663.06 1176.41,663.39 1178.24,663.72 1180.07,664.05 1181.89,664.39 1183.72,664.73 1185.54,665.06 1187.37,665.41 1189.19,665.75 1191.02,666.09 1192.84,666.44 1194.67,666.79 1196.49,667.14 1198.31,667.50 1200.13,667.85 1201.96,668.21 1203.78,668.57 1205.60,668.94 1207.42,669.30 1209.24,669.67 1211.06,670.04 1212.88,670.41 1214.70,670.78 1216.51,671.16 1218.33,671.54 1220.15,671.92 1221.97,672.30 1223.78,672.68 1225.60,673.07 1227.42,673.46 1229.23,673.85 1231.05,674.24 1232.86,674.64 1234.67,675.04 1236.49,675.44 1238.30,675.84 1240.11,676.24 1241.93,676.65 1243.74,677.06 1245.55,677.47 1247.36,677.88 1249.17,678.29 1250.98,678.71 1252.79,679.13 1254.60,679.55 1256.41,679.97 1258.22,680.40 1260.02,680.82 1261.83,681.25 1263.64,681.68 1265.44,682.12 1267.25,682.55 1269.05,682.99 1270.86,683.43 1272.66,683.87 1274.47,684.31 1276.27,684.76 1278.07,685.21 1279.88,685.66 1281.68,686.11 1283.48,686.56 1285.28,687.02 1287.08,687.48 1288.88,687.94 1290.68,688.40 1292.48,688.87 1294.28,689.33 1296.07,689.80 1297.87,690.27 1299.67,690.74 1301.46,691.22 1303.26,691.70 1305.05,692.18 1306.85,692.66 1308.64,693.14 1310.44,693.62 1312.23,694.11 1314.02,694.60 1315.81,695.09 1317.61,695.58 1319.40,696.08 1321.19,696.58 1322.98,697.08 1324.77,697.58 1326.56,698.08 1328.34,698.59 1330.13,699.09 1331.92,699.60 1333.71,700.11 1335.49,700.63 1337.28,701.14 1339.06,701.66 1340.85,702.18 1342.63,702.70 1344.41,703.22 1346.20,703.75 1347.98,704.28 1349.76,704.80 1351.54,705.34 1353.32,705.87 1355.10,706.40 1356.88,706.94 1358.66,707.48 1360.44,708.02 1362.21,708.56 1363.99,709.11 1365.77,709.66 1367.54,710.21 1369.32,710.76 1371.09,711.31 1372.87,711.86 1374.64,712.42 1376.41,712.98 1378.18,713.54 1379.96,714.10 1381.73,714.67 1383.50,715.23 1385.27,715.80 1387.04,716.37 1388.80,716.95 1390.57,717.52 1392.34,718.10 1394.11,718.67 1395.87,719.25 1397.64,719.84 1399.40,720.42 1401.17,721.01 1402.93,721.59 1404.69,722.18 1406.46,722.78 1408.22,723.37 1409.98,723.96 1411.74,724.56 1413.50,725.16 1415.26,725.76 1417.02,726.37 1418.77,726.97 1420.53,727.58 1422.29,728.19 1424.04,728.80 1425.80,729.41 1427.55,730.02 1429.31,730.64 1431.06,731.26 1432.81,731.88 1434.57,732.50 1436.32,733.12 1438.07,733.75 1439.82,734.38 1441.57,735.01 1443.31,735.64 1445.06,736.27 1446.81,736.91 1448.56,737.54 1450.30,738.18 1452.05,738.82 1453.79,739.47 1455.54,740.11 1457.28,740.76 1459.02,741.40 1460.76,742.05 1462.50,742.71 1464.24,743.36 1465.98,744.01 1467.72,744.67 1469.46,745.33 1471.20,745.99 1472.94,746.65 1474.67,747.32 1476.41,747.98 1478.14,748.65 1479.88,749.32 1481.61,749.99 1483.34,750.67 1485.07,751.34 1486.81,752.02 1488.54,752.70 1490.27,753.38 1491.99,754.06 1493.72,754.75 1495.45,755.43 1497.18,756.12 1498.90,756.81 1500.63,757.50 1502.35,758.20 1504.08,758.89 1505.80,759.59 1507.52,760.29 1509.24,760.99 1510.97,761.69 1512.69,762.40 1514.40,763.10 1516.12,763.81 1517.84,764.52 1519.56,765.23 1521.27,765.94 1522.99,766.66 1524.71,767.37 1526.42,768.09 1528.13,768.81 1529.85,769.53 1531.56,770.26 1533.27,770.98 1534.98,771.71 1536.69,772.44 1538.40,773.17 1540.10,773.90 1541.81,774.63 1543.52,775.37 1545.22,776.11 1546.93,776.85 1548.63,777.59 1550.33,778.33 1552.04,779.07 1553.74,779.82 1555.44,780.57 1557.14,781.32 1558.84,782.07 1560.54,782.82 1562.23,783.58 1563.93,784.33 1565.63,785.09 1567.32,785.85 1569.02,786.61 1570.71,787.37 1572.40,788.14 1574.10,788.91 1575.79,789.67 1577.48,790.44 1579.17,791.21 1580.85,791.99 1582.54,792.76 1584.23,793.54 1585.92,794.32 1587.60,795.10 1589.28,795.88 1590.97,796.66 1592.65,797.45 1594.33,798.23 1596.01,799.02 1597.69,799.81 1599.37,800.60 1601.05,801.40 1602.73,802.19 1604.41,802.99 1606.08,803.79 1607.76,804.59 1609.43,805.39 1611.11,806.19 1612.78,807.00 1614.45,807.80 1616.12,808.61 1617.79,809.42 1619.46,810.23 1621.13,811.04 1622.79,811.86 1624.46,812.67 1626.13,813.49 1627.79,814.31" stroke="#ab9d58" stroke-width="2.2" fill="none" stroke-dasharray="8.4 8.8"/>
<path d="M913.95,640.06 915.93,640.04 917.92,640.01 919.90,640.00 921.88,639.98 923.86,639.98 925.84,639.97 927.82,639.98 929.80,639.98 931.78,640.00 933.76,640.01 935.74,640.03 937.72,640.06 939.69,640.09 941.67,640.12 943.64,640.17 945.61,640.21 947.59,640.26 949.56,640.31 951.53,640.37 953.50,640.44 955.47,640.51 957.44,640.58 959.41,640.66 961.38,640.74 963.34,640.83 965.31,640.92 967.27,641.02 969.24,641.12 971.20,641.22 973.16,641.33 975.13,641.45 977.09,641.57 979.05,641.69 981.01,641.82 982.96,641.95 984.92,642.09 986.88,642.23 988.84,642.38 990.79,642.53 992.75,642.69 994.70,642.85 996.65,643.01 998.61,643.18 1000.56,643.35 1002.51,643.53 1004.46,643.72 1006.41,643.90 1008.35,644.09 1010.30,644.29 1012.25,644.49 1014.19,644.70 1016.14,644.91 1018.08,645.12 1020.03,645.34 1021.97,645.56 1023.91,645.79 1025.85,646.02 1027.79,646.25 1029.73,646.49 1031.67,646.74 1033.60,646.99 1035.54,647.24 1037.48,647.50 1039.41,647.76 1041.35,648.02 1043.28,648.29 1045.21,648.57 1047.14,648.84 1049.07,649.13 1051.00,649.41 1052.93,649.71 1054.86,650.00 1056.79,650.30 1058.71,650.60 1060.64,650.91 1062.56,651.22 1064.48,651.54 1066.41,651.86 1068.33,652.18 1070.25,652.51 1072.17,652.85 1074.09,653.18 1076.01,653.52 1077.92,653.87 1079.84,654.22 1081.76,654.57 1083.67,654.93 1085.58,655.29 1087.50,655.66 1089.41,656.03 1091.32,656.40 1093.23,656.78 1095.14,657.16 1097.05,657.54 1098.96,657.93 1100.86,658.33 1102.77,658.73 1104.67,659.13 1106.58,659.53 1108.48,659.94 1110.38,660.36 1112.28,660.77 1114.18,661.19 1116.08,661.62 1117.98,662.05 1119.88,662.48 1121.77,662.92 1123.67,663.36 1125.56,663.80 1127.46,664.25 1129.35,664.70 1131.24,665.16 1133.13,665.62 1135.02,666.08 1136.91,666.55 1138.80,667.02 1140.68,667.50 1142.57,667.98 1144.45,668.46 1146.34,668.95 1148.22,669.44 1150.10,669.93 1151.98,670.43 1153.86,670.93 1155.74,671.44 1157.62,671.94 1159.50,672.46 1161.38,672.97 1163.25,673.49 1165.13,674.02 1167.00,674.54 1168.87,675.08 1170.74,675.61 1172.61,676.15 1174.48,676.69 1176.35,677.24 1178.22,677.78 1180.08,678.34 1181.95,678.89 1183.81,679.45 1185.68,680.02 1187.54,680.58 1189.40,681.15 1191.26,681.73 1193.12,682.31 1194.98,682.89 1196.84,683.47 1198.69,684.06 1200.55,684.65 1202.40,685.25 1204.26,685.85 1206.11,686.45 1207.96,687.05 1209.81,687.66 1211.66,688.27 1213.51,688.89 1215.36,689.51 1217.20,690.13 1219.05,690.76 1220.89,691.39 1222.73,692.02 1224.58,692.66 1226.42,693.30 1228.26,693.94 1230.10,694.59 1231.93,695.24 1233.77,695.89 1235.61,696.54 1237.44,697.20 1239.28,697.87 1241.11,698.53 1242.94,699.20 1244.77,699.88 1246.60,700.55 1248.43,701.23 1250.26,701.91 1252.08,702.60 1253.91,703.29 1255.73,703.98 1257.55,704.68 1259.38,705.37 1261.20,706.08 1263.02,706.78 1264.84,707.49 1266.65,708.20 1268.47,708.91 1270.29,709.63 1272.10,710.35 1273.91,711.08 1275.73,711.80 1277.54,712.53 1279.35,713.27 1281.16,714.00 1282.97,714.74 1284.77,715.48 1286.58,716.23 1288.38,716.98 1290.19,717.73 1291.99,718.48 1293.79,719.24 1295.59,720.00 1297.39,720.76 1299.19,721.53 1300.98,722.30 1302.78,723.07 1304.57,723.85 1306.37,724.63 1308.16,725.41 1309.95,726.19 1311.74,726.98 1313.53,727.77 1315.32,728.56 1317.11,729.36 1318.89,730.16 1320.68,730.96 1322.46,731.76 1324.24,732.57 1326.02,733.38 1327.80,734.19 1329.58,735.01 1331.36,735.83 1333.14,736.65 1334.91,737.47 1336.68,738.30 1338.46,739.13 1340.23,739.96 1342.00,740.80 1343.77,741.64 1345.54,742.48 1347.31,743.32 1349.07,744.17 1350.84,745.02 1352.60,745.87 1354.36,746.72 1356.12,747.58 1357.88,748.44 1359.64,749.30 1361.40,750.17 1363.16,751.03 1364.91,751.90 1366.67,752.78 1368.42,753.65 1370.17,754.53 1371.92,755.41 1373.67,756.30 1375.42,757.18 1377.17,758.07 1378.91,758.96 1380.66,759.86 1382.40,760.75 1384.15,761.65 1385.89,762.55 1387.63,763.46 1389.37,764.36 1391.10,765.27 1392.84,766.18 1394.57,767.10 1396.31,768.01 1398.04,768.93 1399.77,769.86 1401.50,770.78 1403.23,771.71 1404.96,772.63 1406.69,773.56 1408.41,774.50 1410.14,775.43 1411.86,776.37 1413.58,777.31 1415.30,778.26 1417.02,779.20 1418.74,780.15 1420.45,781.10 1422.17,782.05 1423.88,783.01 1425.60,783.96 1427.31,784.92 1429.02,785.89 1430.73,786.85 1432.44,787.82 1434.14,788.78 1435.85,789.76 1437.55,790.73 1439.26,791.70 1440.96,792.68 1442.66,793.66 1444.36,794.64 1446.05,795.63 1447.75,796.61 1449.45,797.60 1451.14,798.59 1452.83,799.59 1454.53,800.58 1456.22,801.58 1457.90,802.58 1459.59,803.58 1461.28,804.58 1462.96,805.59 1464.65,806.60 1466.33,807.61 1468.01,808.62 1469.69,809.63 1471.37,810.65 1473.05,811.67 1474.72,812.69 1476.40,813.71 1478.07,814.73 1479.74,815.76 1481.41,816.79 1483.08,817.82 1484.75,818.85 1486.42,819.88 1488.08,820.92 1489.75,821.96 1491.41,823.00 1493.07,824.04 1494.73,825.09 1496.39,826.13 1498.05,827.18 1499.70,828.23 1501.36,829.28 1503.01,830.33 1504.67,831.39 1506.32,832.45 1507.97,833.51 1509.61,834.57 1511.26,835.63 1512.91,836.70 1514.55,837.76 1516.19,838.83 1517.83,839.90 1519.47,840.97 1521.11,842.05 1522.75,843.12 1524.39,844.20 1526.02,845.28 1527.65,846.36 1529.29,847.44 1530.92,848.53 1532.55,849.61 1534.17,850.70 1535.80,851.79 1537.43,852.88 1539.05,853.97 1540.67,855.07 1542.29,856.16 1543.91,857.26 1545.53,858.36 1547.15,859.46 1548.76,860.56 1550.38,861.67 1551.99,862.77 1553.60,863.88 1555.21,864.99 1556.82,866.10 1558.43,867.21 1560.03,868.33 1561.64,869.44 1563.24,870.56 1564.84,871.68 1566.44,872.80 1568.04,873.92 1569.64,875.04 1571.23,876.17 1572.83,877.29 1574.42,878.42 1576.01,879.55 1577.60,880.68 1579.19,881.81 1580.78,882.94 1582.36,884.08 1583.95,885.21 1585.53,886.35 1587.11,887.49 1588.69,888.63 1590.27,889.77 1591.85,890.91 1593.43,892.06 1595.00,893.20 1596.57,894.35 1598.15,895.50 1599.72,896.65 1601.28,897.80 1602.85,898.95 1604.42,900.11 1605.98,901.26 1607.54,902.42 1609.11,903.58 1610.67,904.73 1612.22,905.89 1613.78,907.06 1615.34,908.22 1616.89,909.38 1618.44,910.55 1619.99,911.71 1621.54,912.88 1623.09,914.05 1624.64,915.22 1626.18,916.39 1627.73,917.56" stroke="#c07cab" stroke-width="2.5" fill="none" stroke-dasharray="2.4 9.1"/>
<path d="M913.94,639.94 915.87,639.94 917.79,639.96 919.70,639.99 921.62,640.02 923.53,640.07 925.44,640.12 927.34,640.18 929.25,640.25 931.15,640.33 933.05,640.42 934.94,640.52 936.84,640.63 938.73,640.75 940.61,640.88 942.50,641.01 944.38,641.16 946.26,641.31 948.14,641.47 950.01,641.64 951.88,641.82 953.75,642.01 955.62,642.21 957.48,642.41 959.35,642.63 961.20,642.85 963.06,643.08 964.91,643.33 966.76,643.57 968.61,643.83 970.46,644.10 972.30,644.37 974.14,644.66 975.98,644.95 977.81,645.25 979.64,645.56 981.47,645.87 983.30,646.20 985.12,646.53 986.95,646.87 988.76,647.22 990.58,647.58 992.39,647.94 994.20,648.32 996.01,648.70 997.82,649.09 999.62,649.48 1001.42,649.89 1003.22,650.30 1005.01,650.72 1006.80,651.15 1008.59,651.59 1010.38,652.04 1012.17,652.49 1013.95,652.95 1015.73,653.42 1017.50,653.89 1019.28,654.37 1021.05,654.86 1022.81,655.36 1024.58,655.87 1026.34,656.38 1028.10,656.90 1029.86,657.43 1031.61,657.97 1033.37,658.51 1035.12,659.06 1036.86,659.62 1038.61,660.18 1040.35,660.75 1042.09,661.33 1043.82,661.92 1045.56,662.51 1047.29,663.11 1049.02,663.72 1050.74,664.33 1052.46,664.96 1054.18,665.58 1055.90,666.22 1057.62,666.86 1059.33,667.51 1061.04,668.17 1062.74,668.83 1064.45,669.50 1066.15,670.17 1067.85,670.86 1069.54,671.55 1071.24,672.24 1072.93,672.95 1074.61,673.66 1076.30,674.37 1077.98,675.09 1079.66,675.82 1081.34,676.56 1083.01,677.30 1084.69,678.05 1086.35,678.80 1088.02,679.56 1089.68,680.33 1091.35,681.10 1093.00,681.88 1094.66,682.67 1096.31,683.46 1097.96,684.26 1099.61,685.06 1101.26,685.87 1102.90,686.69 1104.54,687.51 1106.17,688.34 1107.81,689.17 1109.44,690.01 1111.07,690.86 1112.70,691.71 1114.32,692.57 1115.94,693.43 1117.56,694.30 1119.17,695.18 1120.79,696.06 1122.40,696.94 1124.00,697.83 1125.61,698.73 1127.21,699.63 1128.81,700.54 1130.41,701.45 1132.00,702.37 1133.59,703.30 1135.18,704.23 1136.76,705.16 1138.35,706.10 1139.93,707.05 1141.51,708.00 1143.08,708.96 1144.65,709.92 1146.22,710.88 1147.79,711.86 1149.35,712.83 1150.91,713.81 1152.47,714.80 1154.03,715.79 1155.58,716.79 1157.13,717.79 1158.68,718.80 1160.23,719.81 1161.77,720.82 1163.31,721.84 1164.85,722.87 1166.38,723.90 1167.91,724.94 1169.44,725.97 1170.97,727.02 1172.49,728.07 1174.01,729.12 1175.53,730.18 1177.05,731.24 1178.56,732.31 1180.07,733.38 1181.58,734.46 1183.08,735.54 1184.58,736.62 1186.08,737.71 1187.58,738.80 1189.07,739.90 1190.57,741.00 1192.05,742.11 1193.54,743.22 1195.02,744.33 1196.50,745.45 1197.98,746.57 1199.46,747.70 1200.93,748.83 1202.40,749.96 1203.86,751.10 1205.33,752.24 1206.79,753.38 1208.25,754.53 1209.70,755.69 1211.16,756.84 1212.61,758.00 1214.06,759.17 1215.50,760.34 1216.94,761.51 1218.38,762.68 1219.82,763.86 1221.25,765.04 1222.69,766.23 1224.11,767.42 1225.54,768.61 1226.96,769.81 1228.39,771.00 1229.80,772.21 1231.22,773.41 1232.63,774.62 1234.04,775.83 1235.45,777.05 1236.85,778.27 1238.25,779.49 1239.65,780.72 1241.05,781.94 1242.44,783.18 1243.83,784.41 1245.22,785.65 1246.61,786.89 1247.99,788.13 1249.37,789.38 1250.75,790.63 1252.12,791.88 1253.50,793.14 1254.87,794.40 1256.23,795.66 1257.60,796.93 1258.96,798.19 1260.32,799.47 1261.68,800.74 1263.03,802.02 1264.38,803.30 1265.73,804.58 1267.08,805.86 1268.43,807.15 1269.77,808.44 1271.11,809.74 1272.44,811.03 1273.78,812.33 1275.11,813.64 1276.44,814.94 1277.76,816.25 1279.09,817.56 1280.41,818.87 1281.73,820.19 1283.05,821.51 1284.36,822.83 1285.67,824.15 1286.98,825.48 1288.29,826.81 1289.59,828.14 1290.89,829.47 1292.19,830.81 1293.49,832.15 1294.79,833.49 1296.08,834.83 1297.37,836.18 1298.66,837.53 1299.94,838.88 1301.22,840.23 1302.50,841.59 1303.78,842.95 1305.06,844.31 1306.33,845.67 1307.60,847.04 1308.87,848.40 1310.14,849.77 1311.40,851.15 1312.66,852.52 1313.92,853.90 1315.18,855.28 1316.43,856.66 1317.69,858.04 1318.94,859.43 1320.19,860.82 1321.43,862.21 1322.67,863.60 1323.92,864.99 1325.15,866.39 1326.39,867.79 1327.63,869.19 1328.86,870.59 1330.09,872.00 1331.31,873.40 1332.54,874.81 1333.76,876.22 1334.98,877.64 1336.20,879.05 1337.42,880.47 1338.63,881.89 1339.85,883.31 1341.06,884.73 1342.26,886.15 1343.47,887.58 1344.67,889.01 1345.88,890.44 1347.07,891.87 1348.27,893.30 1349.47,894.74 1350.66,896.17 1351.85,897.61 1353.04,899.05 1354.23,900.49 1355.41,901.94 1356.59,903.38 1357.77,904.83 1358.95,906.28 1360.13,907.73 1361.30,909.18 1362.47,910.63 1363.65,912.09 1364.81,913.54 1365.98,915.00 1367.14,916.46 1368.31,917.92 1369.47,919.38 1370.62,920.85 1371.78,922.31 1372.93,923.78 1374.08,925.25 1375.23,926.72 1376.38,928.19 1377.53,929.66 1378.67,931.13 1379.82,932.61 1380.96,934.08 1382.09,935.56 1383.23,937.04 1384.36,938.52 1385.50,940.00 1386.63,941.49 1387.76,942.97 1388.88,944.45 1390.01,945.94 1391.13,947.43 1392.25,948.92 1393.37,950.41 1394.49,951.90 1395.60,953.39 1396.72,954.88 1397.83,956.37 1398.94,957.87 1400.05,959.37 1401.15,960.86 1402.26,962.36 1403.36,963.86 1404.46,965.36 1405.56,966.86 1406.66,968.36 1407.75,969.86 1408.85,971.37 1409.94,972.87 1411.03,974.38 1412.12,975.88 1413.20,977.39 1414.29,978.90 1415.37,980.41 1416.45,981.92 1417.53,983.43 1418.61,984.94 1419.69,986.45 1420.76,987.96 1421.83,989.47 1422.90,990.99 1423.97,992.50 1425.04,994.02 1426.11,995.53 1427.17,997.05 1428.23,998.56 1429.29,1000.08 1430.35,1001.60 1431.41,1003.12 1432.47,1004.64 1433.52,1006.16 1434.57,1007.68 1435.62,1009.20 1436.67,1010.72 1437.72,1012.24 1438.77,1013.76 1439.81,1015.28 1440.86,1016.80 1441.90,1018.33 1442.94,1019.85 1443.98,1021.37 1445.01,1022.90 1446.05,1024.42 1447.08,1025.95 1448.11,1027.47 1449.14,1029.00 1450.17,1030.52 1451.20,1032.05 1452.23,1033.57 1453.25,1035.10 1454.27,1036.62 1455.30,1038.15 1456.32,1039.68 1457.33,1041.20 1458.35,1042.73 1459.37,1044.26 1460.38,1045.78 1461.39,1047.31 1462.41,1048.84 1463.41,1050.36 1464.42,1051.89 1465.43,1053.42 1466.44,1054.94 1467.44,1056.47 1468.44,1058.00 1469.44,1059.52 1470.44,1061.05 1471.44,1062.58 1472.44,1064.10 1473.43,1065.63 1474.43,1067.15 1475.42,1068.68 1476.41,1070.21 1477.40,1071.73" stroke="#2b2b2b" stroke-width="2.0" fill="none" stroke-linejoin="round"/>
<rect x="102.5" y="63.5" width="728.30" height="449.20" fill="none" stroke="#000" stroke-width="2.5"/>
<rect x="904.4" y="67.8" width="728.10" height="449.60" fill="none" stroke="#000" stroke-width="2.5"/>
<rect x="98.0" y="630.3" width="728.00" height="449.70" fill="none" stroke="#000" stroke-width="2.5"/>
<rect x="899.9" y="630.3" width="744.20" height="449.70" fill="none" stroke="#000" stroke-width="2.5"/>
<rect x="399.6" y="3.6" width="131.9" height="54.6" rx="2" fill="#fff" stroke="#000" stroke-width="2.2"/>
<text y="41.8" font-family="'Liberation Serif', 'Times New Roman', serif" font-size="31" fill="#000" stroke="#000" stroke-width="0.25"><tspan x="406.8">(a)</tspan><tspan x="449.0" font-style="italic">χ</tspan><tspan x="466.0" dy="3.2">=</tspan><tspan x="483.0" dy="-3.2" textLength="37.2" lengthAdjust="spacingAndGlyphs">0.0</tspan></text>
<rect x="1201.3" y="7.7" width="131.9" height="55.1" rx="2" fill="#fff" stroke="#000" stroke-width="2.2"/>
<text y="46.2" font-family="'Liberation Serif', 'Times New Roman', serif" font-size="31" fill="#000" stroke="#000" stroke-width="0.25"><tspan x="1209.1">(b)</tspan><tspan x="1250.7" font-style="italic">χ</tspan><tspan x="1267.8" dy="3.2">=</tspan><tspan x="1284.9" dy="-3.2" textLength="37.0" lengthAdjust="spacingAndGlyphs">1.0</tspan></text>
<rect x="394.9" y="566.0" width="131.4" height="55.3" rx="2" fill="#fff" stroke="#000" stroke-width="2.2"/>
<text y="604.6" font-family="'Liberation Serif', 'Times New Roman', serif" font-size="31" fill="#000" stroke="#000" stroke-width="0.25"><tspan x="400.1">(c)</tspan><tspan x="444.3" font-style="italic">χ</tspan><tspan x="461.4" dy="3.2">=</tspan><tspan x="477.9" dy="-3.2" textLength="36.6" lengthAdjust="spacingAndGlyphs">2.0</tspan></text>
<rect x="1203.4" y="570.3" width="135.0" height="55.1" rx="2" fill="#fff" stroke="#000" stroke-width="2.2"/>
<text y="610.0" font-family="'Liberation Serif', 'Times New Roman', serif" font-size="31" fill="#000" stroke="#000" stroke-width="0.25"><tspan x="1209.1">(d)</tspan><tspan x="1252.8" font-style="italic">χ</tspan><tspan x="1270.4" dy="3.2">=</tspan><tspan x="1286.9" dy="-3.2" textLength="37.1" lengthAdjust="spacingAndGlyphs">3.0</tspan></text>
<rect x="941.6" y="239.3" width="220.7" height="249.7" rx="13" fill="#fff" stroke="#5a5a5a" stroke-width="2.6"/>
<text x="987.3" y="276.6" font-family="'Liberation Serif', 'Times New Roman', serif" font-size="31" fill="#000" stroke="#000" stroke-width="0.45">Stark shift</text>
<path d="M959,308.8H1002" stroke="#555" stroke-width="3.2" fill="none"/>
<text font-family="'Liberation Serif', 'Times New Roman', serif" fill="#000" stroke="#000" stroke-width="0.4"><tspan x="1014.4" y="315.9" font-size="31" font-style="italic" font-family="'Noto Serif CJK SC', serif">γ</tspan><tspan x="1035.2" y="322.5" font-size="25">1</tspan><tspan x="1048.8" y="319.3" font-size="31">=</tspan><tspan x="1066.9" y="315.9" font-size="31" textLength="12" lengthAdjust="spacingAndGlyphs">0</tspan><tspan x="1080.3" y="315.9" font-size="31">,</tspan><tspan x="1083.7" y="315.9" font-size="31" font-style="italic" font-family="'Noto Serif CJK SC', serif">γ</tspan><tspan x="1103.4" y="322.5" font-size="25">2</tspan><tspan x="1118.1" y="319.3" font-size="31">=</tspan><tspan x="1136.7" y="315.9" font-size="31" textLength="12.5" lengthAdjust="spacingAndGlyphs">0</tspan></text>
<path d="M959,359.4H1002" stroke="#cf9cc4" stroke-width="3" stroke-dasharray="3 8.7" fill="none"/>
<text font-family="'Liberation Serif', 'Times New Roman', serif" fill="#000" stroke="#000" stroke-width="0.4"><tspan x="1014.4" y="366.5" font-size="31" font-style="italic" font-family="'Noto Serif CJK SC', serif">γ</tspan><tspan x="1035.2" y="373.1" font-size="25">1</tspan><tspan x="1048.8" y="369.9" font-size="31">=</tspan><tspan x="1066.9" y="366.5" font-size="31" textLength="12" lengthAdjust="spacingAndGlyphs">1</tspan><tspan x="1080.3" y="366.5" font-size="31">,</tspan><tspan x="1083.7" y="366.5" font-size="31" font-style="italic" font-family="'Noto Serif CJK SC', serif">γ</tspan><tspan x="1103.4" y="373.1" font-size="25">2</tspan><tspan x="1118.1" y="369.9" font-size="31">=</tspan><tspan x="1136.7" y="366.5" font-size="31" textLength="12.5" lengthAdjust="spacingAndGlyphs">2</tspan></text>
<path d="M959,410.2H1002" stroke="#b4a668" stroke-width="3" stroke-dasharray="10 8.6" fill="none"/>
<text font-family="'Liberation Serif', 'Times New Roman', serif" fill="#000" stroke="#000" stroke-width="0.4"><tspan x="1014.4" y="417.3" font-size="31" font-style="italic" font-family="'Noto Serif CJK SC', serif">γ</tspan><tspan x="1035.2" y="423.9" font-size="25">1</tspan><tspan x="1048.8" y="420.7" font-size="31">=</tspan><tspan x="1066.9" y="417.3" font-size="31" textLength="12" lengthAdjust="spacingAndGlyphs">2</tspan><tspan x="1080.3" y="417.3" font-size="31">,</tspan><tspan x="1083.7" y="417.3" font-size="31" font-style="italic" font-family="'Noto Serif CJK SC', serif">γ</tspan><tspan x="1103.4" y="423.9" font-size="25">2</tspan><tspan x="1118.1" y="420.7" font-size="31">=</tspan><tspan x="1136.7" y="417.3" font-size="31" textLength="12.5" lengthAdjust="spacingAndGlyphs">4</tspan></text>
<path d="M959,460.9H1002" stroke="#80bf92" stroke-width="3" stroke-dasharray="3 9 10 8.6" fill="none"/>
<text font-family="'Liberation Serif', 'Times New Roman', serif" fill="#000" stroke="#000" stroke-width="0.4"><tspan x="1014.4" y="468.0" font-size="31" font-style="italic" font-family="'Noto Serif CJK SC', serif">γ</tspan><tspan x="1035.2" y="474.6" font-size="25">1</tspan><tspan x="1048.8" y="471.4" font-size="31">=</tspan><tspan x="1066.9" y="468.0" font-size="31" textLength="12" lengthAdjust="spacingAndGlyphs">4</tspan><tspan x="1080.3" y="468.0" font-size="31">,</tspan><tspan x="1083.7" y="468.0" font-size="31" font-style="italic" font-family="'Noto Serif CJK SC', serif">γ</tspan><tspan x="1103.4" y="474.6" font-size="25">2</tspan><tspan x="1118.1" y="471.4" font-size="31">=</tspan><tspan x="1136.7" y="468.0" font-size="31" textLength="12.5" lengthAdjust="spacingAndGlyphs">5</tspan></text>
<text transform="translate(25.8,287.6) rotate(-90)" font-family="'Liberation Serif', 'Times New Roman', serif" font-size="27" fill="#000" text-anchor="middle"><tspan font-style="italic">E</tspan><tspan font-size="23" dy="5.5" dx="-3">0</tspan></text>
<text transform="translate(22.3,856.2) rotate(-90)" font-family="'Liberation Serif', 'Times New Roman', serif" font-size="27" fill="#000" text-anchor="middle"><tspan font-style="italic">E</tspan><tspan font-size="23" dy="5.5" dx="-3">0</tspan></text>
<text font-family="'Liberation Serif', 'Times New Roman', serif" fill="#000" font-size="24"><tspan x="425.6" y="1150.2">λ</tspan><tspan x="438.6" y="1150.2">/</tspan><tspan x="446.1" y="1150.2">ω</tspan><tspan x="461.6" y="1150.2">ω</tspan><tspan x="479.6" y="1156.2" font-size="22">0</tspan></text>
<text font-family="'Liberation Serif', 'Times New Roman', serif" fill="#000" font-size="24"><tspan x="1241.4" y="1138.8">λ</tspan><tspan x="1254.4" y="1138.8">/</tspan><tspan x="1261.9" y="1138.8">ω</tspan><tspan x="1277.4" y="1138.8">ω</tspan><tspan x="1295.4" y="1144.8" font-size="22">0</tspan></text>
</svg>
</body></html>
